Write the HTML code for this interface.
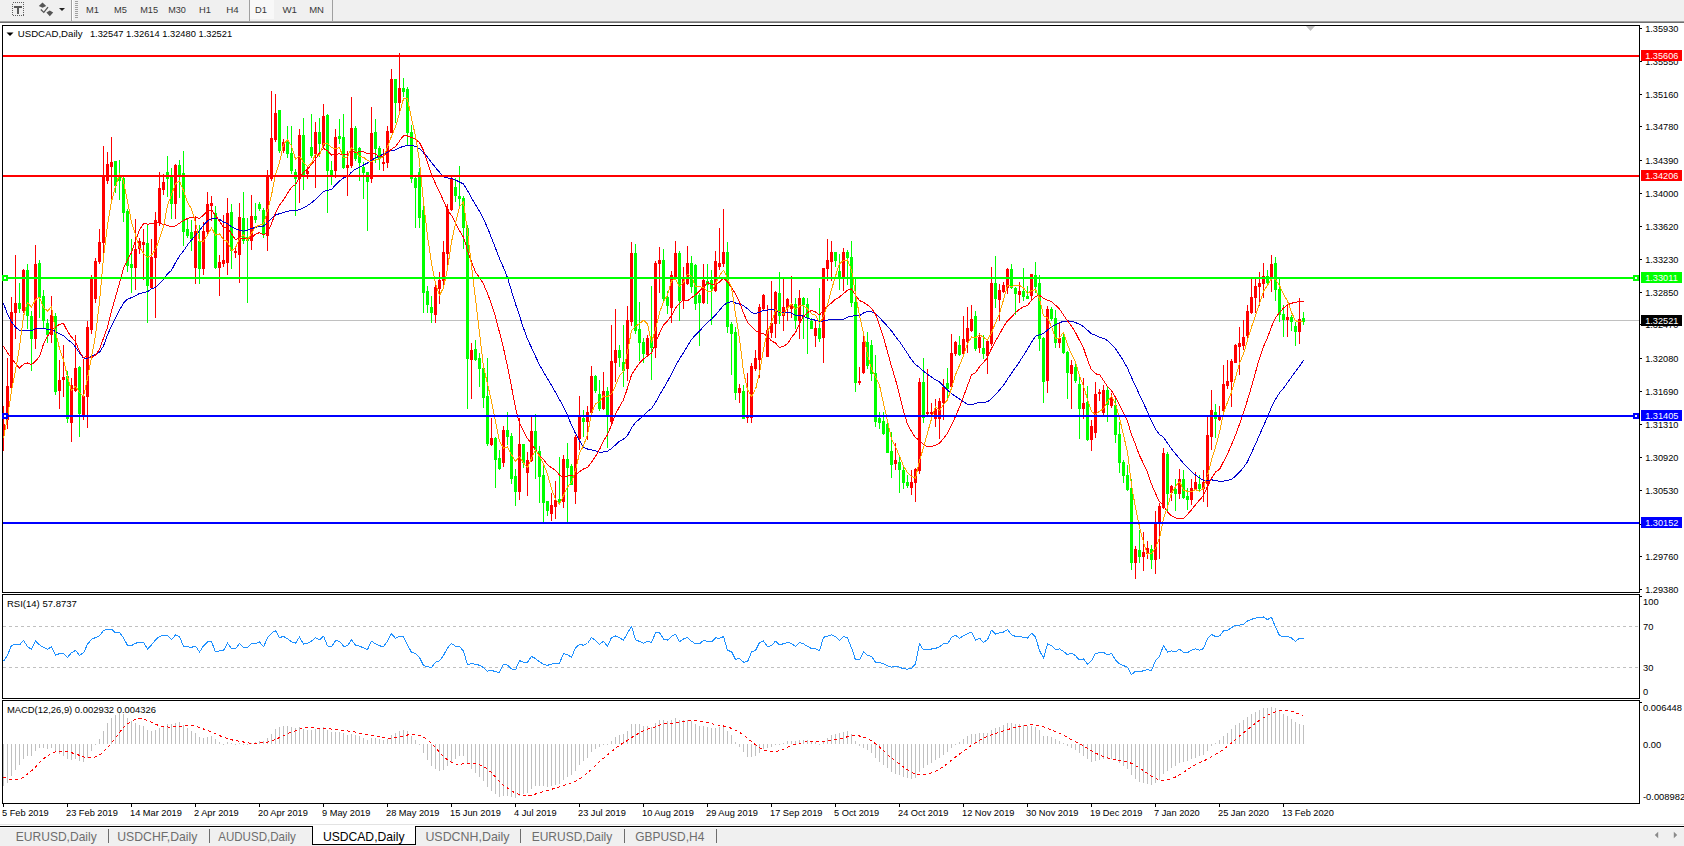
<!DOCTYPE html>
<html><head><meta charset="utf-8"><style>
html,body{margin:0;padding:0;background:#fff;width:1684px;height:846px;overflow:hidden}
svg{display:block}
text{font-family:"Liberation Sans", sans-serif}
</style></head><body>
<svg width="1684" height="846" viewBox="0 0 1684 846" shape-rendering="crispEdges">

<rect x="0" y="0" width="1684" height="21" fill="#f0f0f0"/>
<rect x="0" y="21" width="1684" height="1" fill="#a0a0a0"/>
<rect x="0" y="22" width="1684" height="1" fill="#6e6e6e"/>
<rect x="71" y="0" width="1" height="21" fill="#a0a0a0"/>
<rect x="249" y="0" width="1" height="21" fill="#a0a0a0"/>
<rect x="332" y="0" width="1" height="21" fill="#a0a0a0"/>
<rect x="250" y="0" width="24" height="19" fill="#f8f8f8"/>
<rect x="75" y="1" width="3" height="1" fill="#a0a0a0"/>
<rect x="75" y="3" width="3" height="1" fill="#a0a0a0"/>
<rect x="75" y="5" width="3" height="1" fill="#a0a0a0"/>
<rect x="75" y="7" width="3" height="1" fill="#a0a0a0"/>
<rect x="75" y="9" width="3" height="1" fill="#a0a0a0"/>
<rect x="75" y="11" width="3" height="1" fill="#a0a0a0"/>
<rect x="75" y="13" width="3" height="1" fill="#a0a0a0"/>
<rect x="75" y="15" width="3" height="1" fill="#a0a0a0"/>
<rect x="75" y="17" width="3" height="1" fill="#a0a0a0"/>
<rect x="72" y="0" width="1" height="20" fill="#ffffff"/>
<rect x="12.5" y="2.5" width="11" height="13" fill="none" stroke="#606060" stroke-width="1" stroke-dasharray="1,1"/>
<rect x="14" y="6" width="8" height="2" fill="#5a5a5a"/><rect x="17" y="6" width="2" height="8" fill="#5a5a5a"/>
<path d="M42.5 2.6 L46.2 6 L42.5 7.8 L38.8 6 Z M49.8 10.6 L53.2 12.6 L49.8 16.2 L46.4 12.6 Z" fill="#555" shape-rendering="auto"/>
<path d="M40.8 9.6 L43.8 12.4 L48 7.2" fill="none" stroke="#555" stroke-width="1.3" shape-rendering="auto"/>
<path d="M59 8 L65 8 L62 11 Z" fill="#222" shape-rendering="auto"/>
<text x="86.1" y="12.9" font-size="9.6" fill="#383838" textLength="12.9" lengthAdjust="spacingAndGlyphs">M1</text>
<text x="114.1" y="12.9" font-size="9.6" fill="#383838" textLength="12.9" lengthAdjust="spacingAndGlyphs">M5</text>
<text x="140.2" y="12.9" font-size="9.6" fill="#383838" textLength="17.9" lengthAdjust="spacingAndGlyphs">M15</text>
<text x="168.2" y="12.9" font-size="9.6" fill="#383838" textLength="17.7" lengthAdjust="spacingAndGlyphs">M30</text>
<text x="199.1" y="12.9" font-size="9.6" fill="#383838" textLength="12.0" lengthAdjust="spacingAndGlyphs">H1</text>
<text x="226.2" y="12.9" font-size="9.6" fill="#383838" textLength="12.5" lengthAdjust="spacingAndGlyphs">H4</text>
<text x="255.1" y="12.9" font-size="9.6" fill="#383838" textLength="11.9" lengthAdjust="spacingAndGlyphs">D1</text>
<text x="282.4" y="12.9" font-size="9.6" fill="#383838" textLength="14.6" lengthAdjust="spacingAndGlyphs">W1</text>
<text x="309.2" y="12.9" font-size="9.6" fill="#383838" textLength="14.8" lengthAdjust="spacingAndGlyphs">MN</text>
<rect x="2.5" y="25.5" width="1637" height="567" fill="#fff" stroke="#000" stroke-width="1"/>
<rect x="2.5" y="594.5" width="1637" height="104" fill="#fff" stroke="#000" stroke-width="1"/>
<rect x="2.5" y="700.5" width="1637" height="103" fill="#fff" stroke="#000" stroke-width="1"/>
<defs><clipPath id="cm"><rect x="3" y="26" width="1636" height="566"/></clipPath><clipPath id="cr"><rect x="3" y="595" width="1636" height="103"/></clipPath><clipPath id="cd"><rect x="3" y="701" width="1636" height="102"/></clipPath></defs>
<g clip-path="url(#cm)">
<rect x="3" y="320" width="1636" height="1" fill="#c0c0c0"/>
<rect x="3" y="406" width="1" height="45" fill="#ff0000"/>
<rect x="2" y="424" width="3" height="9" fill="#ff0000"/>
<rect x="7" y="358" width="1" height="71" fill="#ff0000"/>
<rect x="6" y="386" width="3" height="34" fill="#ff0000"/>
<rect x="11" y="297" width="1" height="92" fill="#ff0000"/>
<rect x="10" y="312" width="3" height="76" fill="#ff0000"/>
<rect x="15" y="255" width="1" height="84" fill="#ff0000"/>
<rect x="14" y="303" width="3" height="10" fill="#ff0000"/>
<rect x="19" y="283" width="1" height="30" fill="#00ff00"/>
<rect x="18" y="303" width="3" height="6" fill="#00ff00"/>
<rect x="23" y="269" width="1" height="44" fill="#ff0000"/>
<rect x="22" y="270" width="3" height="41" fill="#ff0000"/>
<rect x="27" y="264" width="1" height="65" fill="#00ff00"/>
<rect x="26" y="270" width="3" height="46" fill="#00ff00"/>
<rect x="31" y="311" width="1" height="60" fill="#00ff00"/>
<rect x="30" y="316" width="3" height="23" fill="#00ff00"/>
<rect x="35" y="245" width="1" height="104" fill="#ff0000"/>
<rect x="34" y="264" width="3" height="75" fill="#ff0000"/>
<rect x="39" y="260" width="1" height="58" fill="#00ff00"/>
<rect x="38" y="263" width="3" height="35" fill="#00ff00"/>
<rect x="43" y="290" width="1" height="38" fill="#00ff00"/>
<rect x="42" y="296" width="3" height="25" fill="#00ff00"/>
<rect x="47" y="319" width="1" height="24" fill="#00ff00"/>
<rect x="46" y="323" width="3" height="12" fill="#00ff00"/>
<rect x="51" y="296" width="1" height="47" fill="#ff0000"/>
<rect x="50" y="315" width="3" height="20" fill="#ff0000"/>
<rect x="55" y="313" width="1" height="82" fill="#00ff00"/>
<rect x="54" y="316" width="3" height="76" fill="#00ff00"/>
<rect x="59" y="360" width="1" height="49" fill="#ff0000"/>
<rect x="58" y="380" width="3" height="11" fill="#ff0000"/>
<rect x="63" y="345" width="1" height="52" fill="#ff0000"/>
<rect x="62" y="377" width="3" height="3" fill="#ff0000"/>
<rect x="67" y="371" width="1" height="52" fill="#00ff00"/>
<rect x="66" y="376" width="3" height="43" fill="#00ff00"/>
<rect x="71" y="378" width="1" height="64" fill="#ff0000"/>
<rect x="70" y="385" width="3" height="38" fill="#ff0000"/>
<rect x="75" y="335" width="1" height="57" fill="#ff0000"/>
<rect x="74" y="368" width="3" height="23" fill="#ff0000"/>
<rect x="79" y="366" width="1" height="71" fill="#00ff00"/>
<rect x="78" y="367" width="3" height="47" fill="#00ff00"/>
<rect x="83" y="359" width="1" height="61" fill="#ff0000"/>
<rect x="82" y="396" width="3" height="19" fill="#ff0000"/>
<rect x="87" y="321" width="1" height="107" fill="#ff0000"/>
<rect x="86" y="327" width="3" height="70" fill="#ff0000"/>
<rect x="91" y="275" width="1" height="59" fill="#ff0000"/>
<rect x="90" y="279" width="3" height="51" fill="#ff0000"/>
<rect x="95" y="258" width="1" height="45" fill="#ff0000"/>
<rect x="94" y="261" width="3" height="38" fill="#ff0000"/>
<rect x="99" y="229" width="1" height="35" fill="#ff0000"/>
<rect x="98" y="242" width="3" height="20" fill="#ff0000"/>
<rect x="103" y="146" width="1" height="107" fill="#ff0000"/>
<rect x="102" y="176" width="3" height="67" fill="#ff0000"/>
<rect x="107" y="152" width="1" height="32" fill="#ff0000"/>
<rect x="106" y="164" width="3" height="17" fill="#ff0000"/>
<rect x="111" y="137" width="1" height="64" fill="#ff0000"/>
<rect x="110" y="162" width="3" height="5" fill="#ff0000"/>
<rect x="115" y="161" width="1" height="32" fill="#00ff00"/>
<rect x="114" y="161" width="3" height="25" fill="#00ff00"/>
<rect x="119" y="160" width="1" height="40" fill="#00ff00"/>
<rect x="118" y="176" width="3" height="5" fill="#00ff00"/>
<rect x="123" y="175" width="1" height="47" fill="#00ff00"/>
<rect x="122" y="178" width="3" height="35" fill="#00ff00"/>
<rect x="127" y="209" width="1" height="63" fill="#00ff00"/>
<rect x="126" y="211" width="3" height="55" fill="#00ff00"/>
<rect x="131" y="239" width="1" height="54" fill="#00ff00"/>
<rect x="130" y="264" width="3" height="4" fill="#00ff00"/>
<rect x="135" y="219" width="1" height="71" fill="#ff0000"/>
<rect x="134" y="249" width="3" height="19" fill="#ff0000"/>
<rect x="139" y="238" width="1" height="16" fill="#ff0000"/>
<rect x="138" y="241" width="3" height="8" fill="#ff0000"/>
<rect x="143" y="229" width="1" height="51" fill="#ff0000"/>
<rect x="142" y="242" width="3" height="3" fill="#ff0000"/>
<rect x="147" y="224" width="1" height="99" fill="#00ff00"/>
<rect x="146" y="243" width="3" height="43" fill="#00ff00"/>
<rect x="151" y="239" width="1" height="50" fill="#ff0000"/>
<rect x="150" y="257" width="3" height="31" fill="#ff0000"/>
<rect x="155" y="212" width="1" height="106" fill="#ff0000"/>
<rect x="154" y="220" width="3" height="38" fill="#ff0000"/>
<rect x="159" y="172" width="1" height="54" fill="#ff0000"/>
<rect x="158" y="188" width="3" height="35" fill="#ff0000"/>
<rect x="163" y="174" width="1" height="21" fill="#ff0000"/>
<rect x="162" y="182" width="3" height="8" fill="#ff0000"/>
<rect x="167" y="156" width="1" height="41" fill="#00ff00"/>
<rect x="166" y="172" width="3" height="7" fill="#00ff00"/>
<rect x="171" y="168" width="1" height="51" fill="#00ff00"/>
<rect x="170" y="177" width="3" height="27" fill="#00ff00"/>
<rect x="175" y="164" width="1" height="55" fill="#ff0000"/>
<rect x="174" y="165" width="3" height="39" fill="#ff0000"/>
<rect x="179" y="160" width="1" height="38" fill="#00ff00"/>
<rect x="178" y="165" width="3" height="10" fill="#00ff00"/>
<rect x="183" y="151" width="1" height="95" fill="#00ff00"/>
<rect x="182" y="173" width="3" height="59" fill="#00ff00"/>
<rect x="187" y="219" width="1" height="19" fill="#00ff00"/>
<rect x="186" y="229" width="3" height="7" fill="#00ff00"/>
<rect x="191" y="220" width="1" height="31" fill="#00ff00"/>
<rect x="190" y="232" width="3" height="7" fill="#00ff00"/>
<rect x="195" y="217" width="1" height="67" fill="#ff0000"/>
<rect x="194" y="231" width="3" height="37" fill="#ff0000"/>
<rect x="199" y="225" width="1" height="59" fill="#00ff00"/>
<rect x="198" y="241" width="3" height="28" fill="#00ff00"/>
<rect x="203" y="222" width="1" height="53" fill="#ff0000"/>
<rect x="202" y="231" width="3" height="38" fill="#ff0000"/>
<rect x="207" y="192" width="1" height="44" fill="#ff0000"/>
<rect x="206" y="204" width="3" height="28" fill="#ff0000"/>
<rect x="211" y="196" width="1" height="25" fill="#ff0000"/>
<rect x="210" y="203" width="3" height="3" fill="#ff0000"/>
<rect x="215" y="206" width="1" height="63" fill="#00ff00"/>
<rect x="214" y="213" width="3" height="55" fill="#00ff00"/>
<rect x="219" y="255" width="1" height="41" fill="#ff0000"/>
<rect x="218" y="262" width="3" height="6" fill="#ff0000"/>
<rect x="223" y="215" width="1" height="52" fill="#ff0000"/>
<rect x="222" y="260" width="3" height="4" fill="#ff0000"/>
<rect x="227" y="198" width="1" height="77" fill="#ff0000"/>
<rect x="226" y="213" width="3" height="50" fill="#ff0000"/>
<rect x="231" y="204" width="1" height="65" fill="#00ff00"/>
<rect x="230" y="212" width="3" height="39" fill="#00ff00"/>
<rect x="235" y="248" width="1" height="10" fill="#ff0000"/>
<rect x="234" y="251" width="3" height="2" fill="#ff0000"/>
<rect x="239" y="203" width="1" height="80" fill="#ff0000"/>
<rect x="238" y="217" width="3" height="38" fill="#ff0000"/>
<rect x="243" y="192" width="1" height="52" fill="#00ff00"/>
<rect x="242" y="218" width="3" height="23" fill="#00ff00"/>
<rect x="247" y="218" width="1" height="85" fill="#00ff00"/>
<rect x="246" y="237" width="3" height="4" fill="#00ff00"/>
<rect x="251" y="195" width="1" height="55" fill="#ff0000"/>
<rect x="250" y="216" width="3" height="25" fill="#ff0000"/>
<rect x="255" y="203" width="1" height="20" fill="#00ff00"/>
<rect x="254" y="216" width="3" height="4" fill="#00ff00"/>
<rect x="259" y="202" width="1" height="9" fill="#00ff00"/>
<rect x="258" y="204" width="3" height="5" fill="#00ff00"/>
<rect x="263" y="208" width="1" height="30" fill="#00ff00"/>
<rect x="262" y="210" width="3" height="24" fill="#00ff00"/>
<rect x="267" y="170" width="1" height="81" fill="#ff0000"/>
<rect x="266" y="176" width="3" height="60" fill="#ff0000"/>
<rect x="271" y="91" width="1" height="90" fill="#ff0000"/>
<rect x="270" y="138" width="3" height="41" fill="#ff0000"/>
<rect x="275" y="94" width="1" height="48" fill="#ff0000"/>
<rect x="274" y="113" width="3" height="27" fill="#ff0000"/>
<rect x="279" y="110" width="1" height="43" fill="#00ff00"/>
<rect x="278" y="110" width="3" height="41" fill="#00ff00"/>
<rect x="283" y="139" width="1" height="14" fill="#ff0000"/>
<rect x="282" y="142" width="3" height="9" fill="#ff0000"/>
<rect x="287" y="126" width="1" height="32" fill="#00ff00"/>
<rect x="286" y="142" width="3" height="12" fill="#00ff00"/>
<rect x="291" y="126" width="1" height="48" fill="#00ff00"/>
<rect x="290" y="153" width="3" height="18" fill="#00ff00"/>
<rect x="295" y="169" width="1" height="47" fill="#00ff00"/>
<rect x="294" y="172" width="3" height="7" fill="#00ff00"/>
<rect x="299" y="129" width="1" height="74" fill="#ff0000"/>
<rect x="298" y="135" width="3" height="44" fill="#ff0000"/>
<rect x="303" y="118" width="1" height="72" fill="#00ff00"/>
<rect x="302" y="135" width="3" height="41" fill="#00ff00"/>
<rect x="307" y="167" width="1" height="12" fill="#ff0000"/>
<rect x="306" y="171" width="3" height="3" fill="#ff0000"/>
<rect x="311" y="114" width="1" height="44" fill="#00ff00"/>
<rect x="310" y="147" width="3" height="9" fill="#00ff00"/>
<rect x="315" y="122" width="1" height="66" fill="#ff0000"/>
<rect x="314" y="132" width="3" height="22" fill="#ff0000"/>
<rect x="319" y="118" width="1" height="39" fill="#00ff00"/>
<rect x="318" y="132" width="3" height="12" fill="#00ff00"/>
<rect x="323" y="104" width="1" height="44" fill="#ff0000"/>
<rect x="322" y="116" width="3" height="30" fill="#ff0000"/>
<rect x="327" y="114" width="1" height="99" fill="#00ff00"/>
<rect x="326" y="115" width="3" height="56" fill="#00ff00"/>
<rect x="331" y="161" width="1" height="24" fill="#00ff00"/>
<rect x="330" y="170" width="3" height="6" fill="#00ff00"/>
<rect x="335" y="129" width="1" height="49" fill="#ff0000"/>
<rect x="334" y="137" width="3" height="34" fill="#ff0000"/>
<rect x="339" y="119" width="1" height="25" fill="#00ff00"/>
<rect x="338" y="136" width="3" height="3" fill="#00ff00"/>
<rect x="343" y="114" width="1" height="55" fill="#00ff00"/>
<rect x="342" y="137" width="3" height="31" fill="#00ff00"/>
<rect x="347" y="151" width="1" height="45" fill="#ff0000"/>
<rect x="346" y="165" width="3" height="3" fill="#ff0000"/>
<rect x="351" y="97" width="1" height="71" fill="#ff0000"/>
<rect x="350" y="128" width="3" height="38" fill="#ff0000"/>
<rect x="355" y="126" width="1" height="35" fill="#00ff00"/>
<rect x="354" y="128" width="3" height="31" fill="#00ff00"/>
<rect x="359" y="147" width="1" height="34" fill="#00ff00"/>
<rect x="358" y="148" width="3" height="15" fill="#00ff00"/>
<rect x="363" y="162" width="1" height="37" fill="#00ff00"/>
<rect x="362" y="167" width="3" height="6" fill="#00ff00"/>
<rect x="367" y="172" width="1" height="59" fill="#00ff00"/>
<rect x="366" y="172" width="3" height="10" fill="#00ff00"/>
<rect x="371" y="107" width="1" height="76" fill="#ff0000"/>
<rect x="370" y="133" width="3" height="46" fill="#ff0000"/>
<rect x="375" y="119" width="1" height="44" fill="#00ff00"/>
<rect x="374" y="132" width="3" height="17" fill="#00ff00"/>
<rect x="379" y="146" width="1" height="24" fill="#00ff00"/>
<rect x="378" y="148" width="3" height="11" fill="#00ff00"/>
<rect x="383" y="149" width="1" height="22" fill="#ff0000"/>
<rect x="382" y="162" width="3" height="2" fill="#ff0000"/>
<rect x="387" y="126" width="1" height="42" fill="#ff0000"/>
<rect x="386" y="131" width="3" height="32" fill="#ff0000"/>
<rect x="391" y="69" width="1" height="64" fill="#ff0000"/>
<rect x="390" y="79" width="3" height="54" fill="#ff0000"/>
<rect x="395" y="79" width="1" height="44" fill="#00ff00"/>
<rect x="394" y="79" width="3" height="24" fill="#00ff00"/>
<rect x="399" y="53" width="1" height="62" fill="#ff0000"/>
<rect x="398" y="88" width="3" height="15" fill="#ff0000"/>
<rect x="403" y="78" width="1" height="19" fill="#00ff00"/>
<rect x="402" y="88" width="3" height="4" fill="#00ff00"/>
<rect x="407" y="87" width="1" height="58" fill="#00ff00"/>
<rect x="406" y="89" width="3" height="44" fill="#00ff00"/>
<rect x="411" y="125" width="1" height="58" fill="#00ff00"/>
<rect x="410" y="132" width="3" height="47" fill="#00ff00"/>
<rect x="415" y="177" width="1" height="51" fill="#00ff00"/>
<rect x="414" y="178" width="3" height="10" fill="#00ff00"/>
<rect x="419" y="168" width="1" height="60" fill="#00ff00"/>
<rect x="418" y="172" width="3" height="46" fill="#00ff00"/>
<rect x="423" y="205" width="1" height="108" fill="#00ff00"/>
<rect x="422" y="210" width="3" height="83" fill="#00ff00"/>
<rect x="427" y="286" width="1" height="27" fill="#00ff00"/>
<rect x="426" y="291" width="3" height="14" fill="#00ff00"/>
<rect x="431" y="296" width="1" height="27" fill="#00ff00"/>
<rect x="430" y="307" width="3" height="6" fill="#00ff00"/>
<rect x="435" y="285" width="1" height="38" fill="#ff0000"/>
<rect x="434" y="287" width="3" height="28" fill="#ff0000"/>
<rect x="439" y="272" width="1" height="32" fill="#ff0000"/>
<rect x="438" y="280" width="3" height="9" fill="#ff0000"/>
<rect x="443" y="241" width="1" height="46" fill="#ff0000"/>
<rect x="442" y="252" width="3" height="29" fill="#ff0000"/>
<rect x="447" y="204" width="1" height="63" fill="#ff0000"/>
<rect x="446" y="209" width="3" height="45" fill="#ff0000"/>
<rect x="451" y="175" width="1" height="36" fill="#ff0000"/>
<rect x="450" y="178" width="3" height="32" fill="#ff0000"/>
<rect x="455" y="178" width="1" height="24" fill="#00ff00"/>
<rect x="454" y="187" width="3" height="9" fill="#00ff00"/>
<rect x="459" y="166" width="1" height="42" fill="#00ff00"/>
<rect x="458" y="196" width="3" height="3" fill="#00ff00"/>
<rect x="463" y="196" width="1" height="53" fill="#00ff00"/>
<rect x="462" y="198" width="3" height="30" fill="#00ff00"/>
<rect x="467" y="225" width="1" height="184" fill="#00ff00"/>
<rect x="466" y="228" width="3" height="131" fill="#00ff00"/>
<rect x="471" y="343" width="1" height="56" fill="#ff0000"/>
<rect x="470" y="350" width="3" height="10" fill="#ff0000"/>
<rect x="475" y="340" width="1" height="21" fill="#00ff00"/>
<rect x="474" y="349" width="3" height="11" fill="#00ff00"/>
<rect x="479" y="353" width="1" height="34" fill="#00ff00"/>
<rect x="478" y="358" width="3" height="11" fill="#00ff00"/>
<rect x="483" y="368" width="1" height="40" fill="#00ff00"/>
<rect x="482" y="368" width="3" height="30" fill="#00ff00"/>
<rect x="487" y="358" width="1" height="88" fill="#00ff00"/>
<rect x="486" y="396" width="3" height="48" fill="#00ff00"/>
<rect x="491" y="418" width="1" height="28" fill="#ff0000"/>
<rect x="490" y="438" width="3" height="7" fill="#ff0000"/>
<rect x="495" y="437" width="1" height="51" fill="#00ff00"/>
<rect x="494" y="438" width="3" height="22" fill="#00ff00"/>
<rect x="499" y="450" width="1" height="20" fill="#00ff00"/>
<rect x="498" y="458" width="3" height="11" fill="#00ff00"/>
<rect x="503" y="426" width="1" height="41" fill="#ff0000"/>
<rect x="502" y="430" width="3" height="33" fill="#ff0000"/>
<rect x="507" y="412" width="1" height="33" fill="#00ff00"/>
<rect x="506" y="430" width="3" height="7" fill="#00ff00"/>
<rect x="511" y="433" width="1" height="51" fill="#00ff00"/>
<rect x="510" y="436" width="3" height="43" fill="#00ff00"/>
<rect x="515" y="469" width="1" height="37" fill="#00ff00"/>
<rect x="514" y="476" width="3" height="16" fill="#00ff00"/>
<rect x="519" y="418" width="1" height="82" fill="#ff0000"/>
<rect x="518" y="444" width="3" height="48" fill="#ff0000"/>
<rect x="523" y="444" width="1" height="24" fill="#00ff00"/>
<rect x="522" y="444" width="3" height="19" fill="#00ff00"/>
<rect x="527" y="452" width="1" height="44" fill="#ff0000"/>
<rect x="526" y="460" width="3" height="13" fill="#ff0000"/>
<rect x="531" y="417" width="1" height="45" fill="#ff0000"/>
<rect x="530" y="431" width="3" height="30" fill="#ff0000"/>
<rect x="535" y="414" width="1" height="65" fill="#00ff00"/>
<rect x="534" y="431" width="3" height="19" fill="#00ff00"/>
<rect x="539" y="446" width="1" height="57" fill="#00ff00"/>
<rect x="538" y="451" width="3" height="26" fill="#00ff00"/>
<rect x="543" y="465" width="1" height="58" fill="#00ff00"/>
<rect x="542" y="475" width="3" height="28" fill="#00ff00"/>
<rect x="547" y="501" width="1" height="15" fill="#00ff00"/>
<rect x="546" y="501" width="3" height="10" fill="#00ff00"/>
<rect x="551" y="493" width="1" height="28" fill="#ff0000"/>
<rect x="550" y="505" width="3" height="9" fill="#ff0000"/>
<rect x="555" y="481" width="1" height="38" fill="#ff0000"/>
<rect x="554" y="500" width="3" height="7" fill="#ff0000"/>
<rect x="559" y="457" width="1" height="48" fill="#00ff00"/>
<rect x="558" y="499" width="3" height="3" fill="#00ff00"/>
<rect x="563" y="455" width="1" height="53" fill="#ff0000"/>
<rect x="562" y="459" width="3" height="43" fill="#ff0000"/>
<rect x="567" y="443" width="1" height="80" fill="#00ff00"/>
<rect x="566" y="459" width="3" height="9" fill="#00ff00"/>
<rect x="571" y="464" width="1" height="21" fill="#00ff00"/>
<rect x="570" y="466" width="3" height="19" fill="#00ff00"/>
<rect x="575" y="435" width="1" height="69" fill="#ff0000"/>
<rect x="574" y="437" width="3" height="55" fill="#ff0000"/>
<rect x="579" y="396" width="1" height="54" fill="#ff0000"/>
<rect x="578" y="417" width="3" height="22" fill="#ff0000"/>
<rect x="583" y="410" width="1" height="27" fill="#00ff00"/>
<rect x="582" y="418" width="3" height="4" fill="#00ff00"/>
<rect x="587" y="406" width="1" height="34" fill="#ff0000"/>
<rect x="586" y="412" width="3" height="10" fill="#ff0000"/>
<rect x="591" y="366" width="1" height="48" fill="#ff0000"/>
<rect x="590" y="376" width="3" height="37" fill="#ff0000"/>
<rect x="595" y="375" width="1" height="18" fill="#00ff00"/>
<rect x="594" y="376" width="3" height="15" fill="#00ff00"/>
<rect x="599" y="380" width="1" height="31" fill="#00ff00"/>
<rect x="598" y="394" width="3" height="15" fill="#00ff00"/>
<rect x="603" y="372" width="1" height="38" fill="#ff0000"/>
<rect x="602" y="391" width="3" height="18" fill="#ff0000"/>
<rect x="607" y="387" width="1" height="61" fill="#00ff00"/>
<rect x="606" y="391" width="3" height="26" fill="#00ff00"/>
<rect x="611" y="325" width="1" height="99" fill="#ff0000"/>
<rect x="610" y="361" width="3" height="61" fill="#ff0000"/>
<rect x="615" y="309" width="1" height="73" fill="#ff0000"/>
<rect x="614" y="350" width="3" height="13" fill="#ff0000"/>
<rect x="619" y="345" width="1" height="22" fill="#00ff00"/>
<rect x="618" y="350" width="3" height="8" fill="#00ff00"/>
<rect x="623" y="325" width="1" height="62" fill="#00ff00"/>
<rect x="622" y="362" width="3" height="9" fill="#00ff00"/>
<rect x="627" y="306" width="1" height="75" fill="#ff0000"/>
<rect x="626" y="320" width="3" height="49" fill="#ff0000"/>
<rect x="631" y="242" width="1" height="84" fill="#ff0000"/>
<rect x="630" y="253" width="3" height="69" fill="#ff0000"/>
<rect x="635" y="244" width="1" height="90" fill="#00ff00"/>
<rect x="634" y="253" width="3" height="78" fill="#00ff00"/>
<rect x="639" y="302" width="1" height="59" fill="#00ff00"/>
<rect x="638" y="329" width="3" height="14" fill="#00ff00"/>
<rect x="643" y="338" width="1" height="25" fill="#00ff00"/>
<rect x="642" y="342" width="3" height="12" fill="#00ff00"/>
<rect x="647" y="335" width="1" height="21" fill="#ff0000"/>
<rect x="646" y="338" width="3" height="17" fill="#ff0000"/>
<rect x="651" y="286" width="1" height="94" fill="#00ff00"/>
<rect x="650" y="337" width="3" height="11" fill="#00ff00"/>
<rect x="655" y="261" width="1" height="97" fill="#ff0000"/>
<rect x="654" y="263" width="3" height="85" fill="#ff0000"/>
<rect x="659" y="247" width="1" height="46" fill="#ff0000"/>
<rect x="658" y="260" width="3" height="4" fill="#ff0000"/>
<rect x="663" y="249" width="1" height="52" fill="#00ff00"/>
<rect x="662" y="260" width="3" height="39" fill="#00ff00"/>
<rect x="667" y="291" width="1" height="23" fill="#00ff00"/>
<rect x="666" y="297" width="3" height="9" fill="#00ff00"/>
<rect x="671" y="271" width="1" height="52" fill="#ff0000"/>
<rect x="670" y="275" width="3" height="33" fill="#ff0000"/>
<rect x="675" y="241" width="1" height="38" fill="#ff0000"/>
<rect x="674" y="253" width="3" height="24" fill="#ff0000"/>
<rect x="679" y="251" width="1" height="70" fill="#00ff00"/>
<rect x="678" y="253" width="3" height="48" fill="#00ff00"/>
<rect x="683" y="267" width="1" height="42" fill="#ff0000"/>
<rect x="682" y="277" width="3" height="24" fill="#ff0000"/>
<rect x="687" y="246" width="1" height="39" fill="#ff0000"/>
<rect x="686" y="263" width="3" height="21" fill="#ff0000"/>
<rect x="691" y="256" width="1" height="37" fill="#00ff00"/>
<rect x="690" y="263" width="3" height="24" fill="#00ff00"/>
<rect x="695" y="264" width="1" height="46" fill="#00ff00"/>
<rect x="694" y="265" width="3" height="39" fill="#00ff00"/>
<rect x="699" y="293" width="1" height="53" fill="#00ff00"/>
<rect x="698" y="295" width="3" height="8" fill="#00ff00"/>
<rect x="703" y="264" width="1" height="40" fill="#ff0000"/>
<rect x="702" y="280" width="3" height="23" fill="#ff0000"/>
<rect x="707" y="264" width="1" height="40" fill="#00ff00"/>
<rect x="706" y="281" width="3" height="4" fill="#00ff00"/>
<rect x="711" y="270" width="1" height="55" fill="#00ff00"/>
<rect x="710" y="280" width="3" height="9" fill="#00ff00"/>
<rect x="715" y="251" width="1" height="41" fill="#ff0000"/>
<rect x="714" y="261" width="3" height="30" fill="#ff0000"/>
<rect x="719" y="228" width="1" height="42" fill="#ff0000"/>
<rect x="718" y="263" width="3" height="4" fill="#ff0000"/>
<rect x="723" y="209" width="1" height="58" fill="#ff0000"/>
<rect x="722" y="252" width="3" height="12" fill="#ff0000"/>
<rect x="727" y="242" width="1" height="91" fill="#00ff00"/>
<rect x="726" y="252" width="3" height="75" fill="#00ff00"/>
<rect x="731" y="322" width="1" height="53" fill="#00ff00"/>
<rect x="730" y="324" width="3" height="10" fill="#00ff00"/>
<rect x="735" y="327" width="1" height="73" fill="#00ff00"/>
<rect x="734" y="332" width="3" height="61" fill="#00ff00"/>
<rect x="739" y="384" width="1" height="19" fill="#ff0000"/>
<rect x="738" y="388" width="3" height="5" fill="#ff0000"/>
<rect x="743" y="385" width="1" height="34" fill="#00ff00"/>
<rect x="742" y="391" width="3" height="28" fill="#00ff00"/>
<rect x="747" y="373" width="1" height="50" fill="#ff0000"/>
<rect x="746" y="416" width="3" height="2" fill="#ff0000"/>
<rect x="751" y="363" width="1" height="60" fill="#ff0000"/>
<rect x="750" y="366" width="3" height="52" fill="#ff0000"/>
<rect x="755" y="350" width="1" height="21" fill="#ff0000"/>
<rect x="754" y="358" width="3" height="11" fill="#ff0000"/>
<rect x="759" y="304" width="1" height="74" fill="#ff0000"/>
<rect x="758" y="307" width="3" height="53" fill="#ff0000"/>
<rect x="763" y="294" width="1" height="17" fill="#ff0000"/>
<rect x="762" y="295" width="3" height="14" fill="#ff0000"/>
<rect x="767" y="305" width="1" height="52" fill="#ff0000"/>
<rect x="766" y="330" width="3" height="27" fill="#ff0000"/>
<rect x="771" y="281" width="1" height="57" fill="#ff0000"/>
<rect x="770" y="323" width="3" height="10" fill="#ff0000"/>
<rect x="775" y="291" width="1" height="47" fill="#ff0000"/>
<rect x="774" y="292" width="3" height="32" fill="#ff0000"/>
<rect x="779" y="272" width="1" height="52" fill="#00ff00"/>
<rect x="778" y="293" width="3" height="23" fill="#00ff00"/>
<rect x="783" y="279" width="1" height="52" fill="#ff0000"/>
<rect x="782" y="307" width="3" height="9" fill="#ff0000"/>
<rect x="787" y="298" width="1" height="23" fill="#ff0000"/>
<rect x="786" y="299" width="3" height="9" fill="#ff0000"/>
<rect x="791" y="276" width="1" height="42" fill="#ff0000"/>
<rect x="790" y="304" width="3" height="5" fill="#ff0000"/>
<rect x="795" y="298" width="1" height="31" fill="#00ff00"/>
<rect x="794" y="304" width="3" height="17" fill="#00ff00"/>
<rect x="799" y="290" width="1" height="49" fill="#ff0000"/>
<rect x="798" y="298" width="3" height="23" fill="#ff0000"/>
<rect x="803" y="297" width="1" height="42" fill="#00ff00"/>
<rect x="802" y="298" width="3" height="7" fill="#00ff00"/>
<rect x="807" y="298" width="1" height="56" fill="#00ff00"/>
<rect x="806" y="304" width="3" height="14" fill="#00ff00"/>
<rect x="811" y="318" width="1" height="11" fill="#00ff00"/>
<rect x="810" y="321" width="3" height="8" fill="#00ff00"/>
<rect x="815" y="320" width="1" height="27" fill="#ff0000"/>
<rect x="814" y="328" width="3" height="8" fill="#ff0000"/>
<rect x="819" y="288" width="1" height="54" fill="#00ff00"/>
<rect x="818" y="328" width="3" height="11" fill="#00ff00"/>
<rect x="823" y="268" width="1" height="95" fill="#ff0000"/>
<rect x="822" y="268" width="3" height="70" fill="#ff0000"/>
<rect x="827" y="239" width="1" height="42" fill="#ff0000"/>
<rect x="826" y="260" width="3" height="9" fill="#ff0000"/>
<rect x="831" y="241" width="1" height="40" fill="#ff0000"/>
<rect x="830" y="252" width="3" height="10" fill="#ff0000"/>
<rect x="835" y="252" width="1" height="15" fill="#00ff00"/>
<rect x="834" y="252" width="3" height="9" fill="#00ff00"/>
<rect x="839" y="254" width="1" height="36" fill="#00ff00"/>
<rect x="838" y="271" width="3" height="6" fill="#00ff00"/>
<rect x="843" y="248" width="1" height="43" fill="#ff0000"/>
<rect x="842" y="252" width="3" height="26" fill="#ff0000"/>
<rect x="847" y="250" width="1" height="35" fill="#00ff00"/>
<rect x="846" y="252" width="3" height="6" fill="#00ff00"/>
<rect x="851" y="241" width="1" height="66" fill="#00ff00"/>
<rect x="850" y="257" width="3" height="46" fill="#00ff00"/>
<rect x="855" y="278" width="1" height="114" fill="#00ff00"/>
<rect x="854" y="302" width="3" height="81" fill="#00ff00"/>
<rect x="859" y="367" width="1" height="18" fill="#ff0000"/>
<rect x="858" y="381" width="3" height="2" fill="#ff0000"/>
<rect x="863" y="336" width="1" height="38" fill="#ff0000"/>
<rect x="862" y="342" width="3" height="31" fill="#ff0000"/>
<rect x="867" y="332" width="1" height="37" fill="#00ff00"/>
<rect x="866" y="342" width="3" height="24" fill="#00ff00"/>
<rect x="871" y="340" width="1" height="41" fill="#00ff00"/>
<rect x="870" y="345" width="3" height="29" fill="#00ff00"/>
<rect x="875" y="355" width="1" height="72" fill="#00ff00"/>
<rect x="874" y="373" width="3" height="49" fill="#00ff00"/>
<rect x="879" y="412" width="1" height="17" fill="#00ff00"/>
<rect x="878" y="418" width="3" height="5" fill="#00ff00"/>
<rect x="883" y="412" width="1" height="23" fill="#00ff00"/>
<rect x="882" y="421" width="3" height="13" fill="#00ff00"/>
<rect x="887" y="423" width="1" height="30" fill="#00ff00"/>
<rect x="886" y="424" width="3" height="29" fill="#00ff00"/>
<rect x="891" y="432" width="1" height="46" fill="#00ff00"/>
<rect x="890" y="451" width="3" height="14" fill="#00ff00"/>
<rect x="895" y="443" width="1" height="27" fill="#ff0000"/>
<rect x="894" y="460" width="3" height="4" fill="#ff0000"/>
<rect x="899" y="457" width="1" height="36" fill="#00ff00"/>
<rect x="898" y="462" width="3" height="8" fill="#00ff00"/>
<rect x="903" y="466" width="1" height="23" fill="#00ff00"/>
<rect x="902" y="470" width="3" height="13" fill="#00ff00"/>
<rect x="907" y="475" width="1" height="13" fill="#00ff00"/>
<rect x="906" y="482" width="3" height="4" fill="#00ff00"/>
<rect x="911" y="470" width="1" height="25" fill="#ff0000"/>
<rect x="910" y="482" width="3" height="6" fill="#ff0000"/>
<rect x="915" y="468" width="1" height="34" fill="#ff0000"/>
<rect x="914" y="469" width="3" height="14" fill="#ff0000"/>
<rect x="919" y="378" width="1" height="96" fill="#ff0000"/>
<rect x="918" y="382" width="3" height="89" fill="#ff0000"/>
<rect x="923" y="358" width="1" height="65" fill="#00ff00"/>
<rect x="922" y="382" width="3" height="36" fill="#00ff00"/>
<rect x="927" y="369" width="1" height="47" fill="#ff0000"/>
<rect x="926" y="412" width="3" height="2" fill="#ff0000"/>
<rect x="931" y="403" width="1" height="13" fill="#ff0000"/>
<rect x="930" y="412" width="3" height="2" fill="#ff0000"/>
<rect x="935" y="399" width="1" height="28" fill="#ff0000"/>
<rect x="934" y="409" width="3" height="10" fill="#ff0000"/>
<rect x="939" y="398" width="1" height="41" fill="#ff0000"/>
<rect x="938" y="401" width="3" height="18" fill="#ff0000"/>
<rect x="943" y="379" width="1" height="41" fill="#ff0000"/>
<rect x="942" y="387" width="3" height="16" fill="#ff0000"/>
<rect x="947" y="368" width="1" height="31" fill="#00ff00"/>
<rect x="946" y="383" width="3" height="6" fill="#00ff00"/>
<rect x="951" y="334" width="1" height="55" fill="#ff0000"/>
<rect x="950" y="353" width="3" height="34" fill="#ff0000"/>
<rect x="955" y="341" width="1" height="15" fill="#ff0000"/>
<rect x="954" y="342" width="3" height="12" fill="#ff0000"/>
<rect x="959" y="336" width="1" height="20" fill="#00ff00"/>
<rect x="958" y="345" width="3" height="10" fill="#00ff00"/>
<rect x="963" y="316" width="1" height="40" fill="#ff0000"/>
<rect x="962" y="339" width="3" height="15" fill="#ff0000"/>
<rect x="967" y="307" width="1" height="46" fill="#ff0000"/>
<rect x="966" y="328" width="3" height="14" fill="#ff0000"/>
<rect x="971" y="305" width="1" height="27" fill="#ff0000"/>
<rect x="970" y="319" width="3" height="12" fill="#ff0000"/>
<rect x="975" y="311" width="1" height="40" fill="#00ff00"/>
<rect x="974" y="316" width="3" height="33" fill="#00ff00"/>
<rect x="979" y="333" width="1" height="20" fill="#ff0000"/>
<rect x="978" y="337" width="3" height="11" fill="#ff0000"/>
<rect x="983" y="335" width="1" height="24" fill="#00ff00"/>
<rect x="982" y="348" width="3" height="6" fill="#00ff00"/>
<rect x="987" y="340" width="1" height="34" fill="#ff0000"/>
<rect x="986" y="341" width="3" height="15" fill="#ff0000"/>
<rect x="991" y="267" width="1" height="79" fill="#ff0000"/>
<rect x="990" y="283" width="3" height="61" fill="#ff0000"/>
<rect x="995" y="256" width="1" height="52" fill="#00ff00"/>
<rect x="994" y="283" width="3" height="16" fill="#00ff00"/>
<rect x="999" y="284" width="1" height="37" fill="#ff0000"/>
<rect x="998" y="290" width="3" height="10" fill="#ff0000"/>
<rect x="1003" y="282" width="1" height="11" fill="#ff0000"/>
<rect x="1002" y="285" width="3" height="7" fill="#ff0000"/>
<rect x="1007" y="268" width="1" height="26" fill="#ff0000"/>
<rect x="1006" y="269" width="3" height="19" fill="#ff0000"/>
<rect x="1011" y="264" width="1" height="25" fill="#00ff00"/>
<rect x="1010" y="269" width="3" height="19" fill="#00ff00"/>
<rect x="1015" y="287" width="1" height="28" fill="#00ff00"/>
<rect x="1014" y="288" width="3" height="6" fill="#00ff00"/>
<rect x="1019" y="282" width="1" height="21" fill="#ff0000"/>
<rect x="1018" y="291" width="3" height="4" fill="#ff0000"/>
<rect x="1023" y="268" width="1" height="33" fill="#00ff00"/>
<rect x="1022" y="291" width="3" height="6" fill="#00ff00"/>
<rect x="1027" y="286" width="1" height="13" fill="#00ff00"/>
<rect x="1026" y="296" width="3" height="3" fill="#00ff00"/>
<rect x="1031" y="274" width="1" height="27" fill="#ff0000"/>
<rect x="1030" y="274" width="3" height="22" fill="#ff0000"/>
<rect x="1035" y="262" width="1" height="31" fill="#00ff00"/>
<rect x="1034" y="275" width="3" height="12" fill="#00ff00"/>
<rect x="1039" y="275" width="1" height="76" fill="#00ff00"/>
<rect x="1038" y="283" width="3" height="56" fill="#00ff00"/>
<rect x="1043" y="337" width="1" height="66" fill="#00ff00"/>
<rect x="1042" y="338" width="3" height="44" fill="#00ff00"/>
<rect x="1047" y="306" width="1" height="87" fill="#ff0000"/>
<rect x="1046" y="309" width="3" height="72" fill="#ff0000"/>
<rect x="1051" y="307" width="1" height="14" fill="#00ff00"/>
<rect x="1050" y="309" width="3" height="10" fill="#00ff00"/>
<rect x="1055" y="310" width="1" height="38" fill="#00ff00"/>
<rect x="1054" y="318" width="3" height="25" fill="#00ff00"/>
<rect x="1059" y="323" width="1" height="25" fill="#ff0000"/>
<rect x="1058" y="338" width="3" height="5" fill="#ff0000"/>
<rect x="1063" y="332" width="1" height="22" fill="#00ff00"/>
<rect x="1062" y="337" width="3" height="16" fill="#00ff00"/>
<rect x="1067" y="351" width="1" height="48" fill="#00ff00"/>
<rect x="1066" y="352" width="3" height="21" fill="#00ff00"/>
<rect x="1071" y="360" width="1" height="49" fill="#ff0000"/>
<rect x="1070" y="365" width="3" height="9" fill="#ff0000"/>
<rect x="1075" y="363" width="1" height="20" fill="#00ff00"/>
<rect x="1074" y="367" width="3" height="14" fill="#00ff00"/>
<rect x="1079" y="375" width="1" height="64" fill="#00ff00"/>
<rect x="1078" y="384" width="3" height="25" fill="#00ff00"/>
<rect x="1083" y="378" width="1" height="41" fill="#ff0000"/>
<rect x="1082" y="403" width="3" height="6" fill="#ff0000"/>
<rect x="1087" y="386" width="1" height="55" fill="#00ff00"/>
<rect x="1086" y="402" width="3" height="38" fill="#00ff00"/>
<rect x="1091" y="420" width="1" height="31" fill="#ff0000"/>
<rect x="1090" y="426" width="3" height="14" fill="#ff0000"/>
<rect x="1095" y="382" width="1" height="56" fill="#ff0000"/>
<rect x="1094" y="394" width="3" height="39" fill="#ff0000"/>
<rect x="1099" y="389" width="1" height="12" fill="#ff0000"/>
<rect x="1098" y="392" width="3" height="2" fill="#ff0000"/>
<rect x="1103" y="385" width="1" height="31" fill="#ff0000"/>
<rect x="1102" y="390" width="3" height="23" fill="#ff0000"/>
<rect x="1107" y="387" width="1" height="35" fill="#00ff00"/>
<rect x="1106" y="390" width="3" height="15" fill="#00ff00"/>
<rect x="1111" y="393" width="1" height="15" fill="#ff0000"/>
<rect x="1110" y="398" width="3" height="8" fill="#ff0000"/>
<rect x="1115" y="397" width="1" height="46" fill="#00ff00"/>
<rect x="1114" y="405" width="3" height="30" fill="#00ff00"/>
<rect x="1119" y="422" width="1" height="51" fill="#00ff00"/>
<rect x="1118" y="434" width="3" height="29" fill="#00ff00"/>
<rect x="1123" y="460" width="1" height="23" fill="#00ff00"/>
<rect x="1122" y="462" width="3" height="14" fill="#00ff00"/>
<rect x="1127" y="465" width="1" height="26" fill="#00ff00"/>
<rect x="1126" y="475" width="3" height="15" fill="#00ff00"/>
<rect x="1131" y="479" width="1" height="91" fill="#00ff00"/>
<rect x="1130" y="488" width="3" height="75" fill="#00ff00"/>
<rect x="1135" y="546" width="1" height="33" fill="#ff0000"/>
<rect x="1134" y="549" width="3" height="14" fill="#ff0000"/>
<rect x="1139" y="530" width="1" height="33" fill="#00ff00"/>
<rect x="1138" y="550" width="3" height="7" fill="#00ff00"/>
<rect x="1143" y="532" width="1" height="39" fill="#ff0000"/>
<rect x="1142" y="552" width="3" height="5" fill="#ff0000"/>
<rect x="1147" y="541" width="1" height="18" fill="#ff0000"/>
<rect x="1146" y="548" width="3" height="6" fill="#ff0000"/>
<rect x="1151" y="545" width="1" height="24" fill="#00ff00"/>
<rect x="1150" y="549" width="3" height="11" fill="#00ff00"/>
<rect x="1155" y="511" width="1" height="63" fill="#ff0000"/>
<rect x="1154" y="523" width="3" height="37" fill="#ff0000"/>
<rect x="1159" y="503" width="1" height="56" fill="#ff0000"/>
<rect x="1158" y="506" width="3" height="18" fill="#ff0000"/>
<rect x="1163" y="448" width="1" height="61" fill="#ff0000"/>
<rect x="1162" y="453" width="3" height="55" fill="#ff0000"/>
<rect x="1167" y="452" width="1" height="61" fill="#00ff00"/>
<rect x="1166" y="454" width="3" height="40" fill="#00ff00"/>
<rect x="1171" y="485" width="1" height="16" fill="#ff0000"/>
<rect x="1170" y="486" width="3" height="7" fill="#ff0000"/>
<rect x="1175" y="479" width="1" height="32" fill="#00ff00"/>
<rect x="1174" y="489" width="3" height="5" fill="#00ff00"/>
<rect x="1179" y="469" width="1" height="30" fill="#ff0000"/>
<rect x="1178" y="479" width="3" height="15" fill="#ff0000"/>
<rect x="1183" y="470" width="1" height="29" fill="#00ff00"/>
<rect x="1182" y="479" width="3" height="19" fill="#00ff00"/>
<rect x="1187" y="488" width="1" height="22" fill="#00ff00"/>
<rect x="1186" y="496" width="3" height="4" fill="#00ff00"/>
<rect x="1191" y="479" width="1" height="26" fill="#ff0000"/>
<rect x="1190" y="488" width="3" height="12" fill="#ff0000"/>
<rect x="1195" y="472" width="1" height="17" fill="#ff0000"/>
<rect x="1194" y="482" width="3" height="7" fill="#ff0000"/>
<rect x="1199" y="475" width="1" height="16" fill="#00ff00"/>
<rect x="1198" y="484" width="3" height="5" fill="#00ff00"/>
<rect x="1203" y="470" width="1" height="32" fill="#ff0000"/>
<rect x="1202" y="482" width="3" height="7" fill="#ff0000"/>
<rect x="1207" y="417" width="1" height="90" fill="#ff0000"/>
<rect x="1206" y="435" width="3" height="49" fill="#ff0000"/>
<rect x="1211" y="390" width="1" height="60" fill="#ff0000"/>
<rect x="1210" y="410" width="3" height="27" fill="#ff0000"/>
<rect x="1215" y="404" width="1" height="34" fill="#00ff00"/>
<rect x="1214" y="412" width="3" height="7" fill="#00ff00"/>
<rect x="1219" y="406" width="1" height="15" fill="#ff0000"/>
<rect x="1218" y="415" width="3" height="5" fill="#ff0000"/>
<rect x="1223" y="365" width="1" height="49" fill="#ff0000"/>
<rect x="1222" y="384" width="3" height="27" fill="#ff0000"/>
<rect x="1227" y="360" width="1" height="29" fill="#ff0000"/>
<rect x="1226" y="381" width="3" height="5" fill="#ff0000"/>
<rect x="1231" y="359" width="1" height="48" fill="#ff0000"/>
<rect x="1230" y="361" width="3" height="21" fill="#ff0000"/>
<rect x="1235" y="344" width="1" height="19" fill="#ff0000"/>
<rect x="1234" y="345" width="3" height="18" fill="#ff0000"/>
<rect x="1239" y="327" width="1" height="48" fill="#ff0000"/>
<rect x="1238" y="343" width="3" height="4" fill="#ff0000"/>
<rect x="1243" y="320" width="1" height="30" fill="#ff0000"/>
<rect x="1242" y="337" width="3" height="9" fill="#ff0000"/>
<rect x="1247" y="305" width="1" height="34" fill="#ff0000"/>
<rect x="1246" y="311" width="3" height="25" fill="#ff0000"/>
<rect x="1251" y="279" width="1" height="35" fill="#ff0000"/>
<rect x="1250" y="297" width="3" height="16" fill="#ff0000"/>
<rect x="1255" y="279" width="1" height="34" fill="#ff0000"/>
<rect x="1254" y="286" width="3" height="12" fill="#ff0000"/>
<rect x="1259" y="272" width="1" height="34" fill="#ff0000"/>
<rect x="1258" y="283" width="3" height="4" fill="#ff0000"/>
<rect x="1263" y="263" width="1" height="35" fill="#ff0000"/>
<rect x="1262" y="276" width="3" height="8" fill="#ff0000"/>
<rect x="1267" y="270" width="1" height="15" fill="#00ff00"/>
<rect x="1266" y="276" width="3" height="7" fill="#00ff00"/>
<rect x="1271" y="255" width="1" height="37" fill="#ff0000"/>
<rect x="1270" y="264" width="3" height="14" fill="#ff0000"/>
<rect x="1275" y="257" width="1" height="44" fill="#00ff00"/>
<rect x="1274" y="263" width="3" height="27" fill="#00ff00"/>
<rect x="1279" y="279" width="1" height="43" fill="#00ff00"/>
<rect x="1278" y="289" width="3" height="26" fill="#00ff00"/>
<rect x="1283" y="305" width="1" height="32" fill="#00ff00"/>
<rect x="1282" y="314" width="3" height="6" fill="#00ff00"/>
<rect x="1287" y="306" width="1" height="31" fill="#ff0000"/>
<rect x="1286" y="317" width="3" height="3" fill="#ff0000"/>
<rect x="1291" y="315" width="1" height="16" fill="#00ff00"/>
<rect x="1290" y="317" width="3" height="5" fill="#00ff00"/>
<rect x="1295" y="322" width="1" height="24" fill="#00ff00"/>
<rect x="1294" y="326" width="3" height="6" fill="#00ff00"/>
<rect x="1299" y="298" width="1" height="46" fill="#ff0000"/>
<rect x="1298" y="319" width="3" height="13" fill="#ff0000"/>
<rect x="1303" y="312" width="1" height="13" fill="#00ff00"/>
<rect x="1302" y="318" width="3" height="4" fill="#00ff00"/>
<polyline points="3.5,303.3 7.5,314.1 11.5,321.7 15.5,327.1 19.5,330.5 23.5,330.6 27.5,330.2 31.5,330.6 35.5,328.8 39.5,328.2 43.5,328.5 47.5,329.2 51.5,329.2 55.5,331.6 59.5,333.7 63.5,335.8 67.5,339.4 71.5,342.4 75.5,346.9 79.5,353.0 83.5,358.0 87.5,358.2 91.5,356.4 95.5,354.6 99.5,352.3 103.5,346.0 107.5,335.0 111.5,325.7 115.5,318.3 119.5,310.2 123.5,303.1 127.5,299.1 131.5,297.6 135.5,295.8 139.5,293.5 143.5,292.6 147.5,291.6 151.5,288.9 155.5,287.4 159.5,283.8 163.5,279.2 167.5,274.0 171.5,270.3 175.5,262.7 179.5,255.9 183.5,251.0 187.5,244.9 191.5,240.0 195.5,235.4 199.5,230.6 203.5,225.1 207.5,221.0 211.5,218.5 215.5,218.7 219.5,219.3 223.5,222.1 227.5,223.8 231.5,226.7 235.5,228.9 239.5,230.1 243.5,231.1 247.5,230.2 251.5,228.5 255.5,227.5 259.5,226.4 263.5,226.1 267.5,222.5 271.5,218.5 275.5,215.0 279.5,213.7 283.5,212.4 287.5,211.5 291.5,210.4 295.5,210.9 299.5,209.6 303.5,207.7 307.5,205.6 311.5,202.8 315.5,199.5 319.5,195.3 323.5,191.5 327.5,190.4 331.5,189.4 335.5,185.1 339.5,181.0 343.5,177.9 347.5,176.3 351.5,172.2 355.5,169.1 359.5,167.2 363.5,165.0 367.5,163.0 371.5,160.2 375.5,157.9 379.5,156.2 383.5,153.8 387.5,152.3 391.5,150.4 395.5,150.0 399.5,147.9 403.5,146.2 407.5,145.6 411.5,145.8 415.5,146.1 419.5,148.8 423.5,152.8 427.5,157.2 431.5,162.4 435.5,167.6 439.5,172.2 443.5,176.7 447.5,178.0 451.5,178.1 455.5,180.1 459.5,182.0 463.5,184.0 467.5,190.5 471.5,197.9 475.5,204.6 479.5,211.4 483.5,218.9 487.5,227.7 491.5,237.8 495.5,248.2 499.5,258.6 503.5,267.5 507.5,277.7 511.5,291.0 515.5,303.9 519.5,315.8 523.5,328.2 527.5,339.1 531.5,347.6 535.5,356.3 539.5,364.9 543.5,371.9 547.5,378.8 551.5,385.2 555.5,392.3 559.5,399.7 563.5,406.6 567.5,415.1 571.5,425.3 575.5,433.4 579.5,440.7 583.5,447.2 587.5,449.0 591.5,449.9 595.5,450.9 599.5,452.2 603.5,452.0 607.5,451.1 611.5,448.6 615.5,444.9 619.5,441.2 623.5,439.2 627.5,435.4 631.5,427.9 635.5,422.5 639.5,419.1 643.5,415.5 647.5,411.4 651.5,408.6 655.5,402.4 659.5,395.2 663.5,388.4 667.5,381.5 671.5,373.9 675.5,365.6 679.5,358.9 683.5,352.9 687.5,346.1 691.5,339.5 695.5,335.0 699.5,331.2 703.5,326.5 707.5,322.2 711.5,319.3 715.5,315.0 719.5,310.2 723.5,305.5 727.5,302.5 731.5,301.6 735.5,303.0 739.5,304.0 743.5,305.6 747.5,308.8 751.5,312.6 755.5,313.5 759.5,312.3 763.5,310.4 767.5,310.1 771.5,309.3 775.5,310.3 779.5,312.1 783.5,312.4 787.5,312.2 791.5,313.2 795.5,315.4 799.5,315.4 803.5,316.2 807.5,318.1 811.5,319.4 815.5,320.2 819.5,321.4 823.5,321.0 827.5,320.2 831.5,319.0 835.5,319.0 839.5,319.4 843.5,319.4 847.5,317.1 851.5,316.1 855.5,315.8 859.5,315.6 863.5,313.0 867.5,311.3 871.5,311.6 875.5,313.7 879.5,317.5 883.5,322.1 887.5,326.2 891.5,330.9 895.5,336.5 899.5,341.6 903.5,347.4 907.5,353.6 911.5,359.6 915.5,364.6 919.5,367.4 923.5,371.1 927.5,374.3 931.5,377.1 935.5,379.8 939.5,381.9 943.5,385.9 947.5,390.2 951.5,393.5 955.5,396.3 959.5,398.9 963.5,401.8 967.5,404.1 971.5,404.7 975.5,403.6 979.5,402.1 983.5,402.5 987.5,401.7 991.5,398.7 995.5,394.6 999.5,390.1 1003.5,385.2 1007.5,379.1 1011.5,373.2 1015.5,367.6 1019.5,361.7 1023.5,355.5 1027.5,349.2 1031.5,342.3 1035.5,336.2 1039.5,334.7 1043.5,333.5 1047.5,330.1 1051.5,326.9 1055.5,324.7 1059.5,322.6 1063.5,321.4 1067.5,320.9 1071.5,321.3 1075.5,322.6 1079.5,324.4 1083.5,326.5 1087.5,330.2 1091.5,333.8 1095.5,335.3 1099.5,337.1 1103.5,338.4 1107.5,340.5 1111.5,344.3 1115.5,348.8 1119.5,354.6 1123.5,360.9 1127.5,368.2 1131.5,377.4 1135.5,385.9 1139.5,394.8 1143.5,403.3 1147.5,411.7 1151.5,421.2 1155.5,429.1 1159.5,434.7 1163.5,437.1 1167.5,443.2 1171.5,448.8 1175.5,453.9 1179.5,458.6 1183.5,463.4 1187.5,467.6 1191.5,471.7 1195.5,475.1 1199.5,477.8 1203.5,480.4 1207.5,480.3 1211.5,479.8 1215.5,480.6 1219.5,481.4 1223.5,481.1 1227.5,480.4 1231.5,479.2 1235.5,476.2 1239.5,472.2 1243.5,467.6 1247.5,461.7 1251.5,452.9 1255.5,444.1 1259.5,435.0 1263.5,425.8 1267.5,416.9 1271.5,407.1 1275.5,399.3 1279.5,392.9 1283.5,388.4 1287.5,382.5 1291.5,377.0 1295.5,371.6 1299.5,366.3 1303.5,360.4" fill="none" stroke="#0000cd" stroke-width="1" stroke-linejoin="round"/>
<polyline points="3.5,346.2 7.5,352.7 11.5,358.3 15.5,363.5 19.5,368.0 23.5,364.3 27.5,363.0 31.5,364.6 35.5,361.2 39.5,356.4 43.5,344.0 47.5,336.3 51.5,329.8 55.5,327.4 59.5,324.3 63.5,323.6 67.5,331.2 71.5,337.1 75.5,341.4 79.5,351.6 83.5,357.4 87.5,356.6 91.5,357.6 95.5,355.1 99.5,349.5 103.5,338.2 107.5,327.4 111.5,311.1 115.5,297.1 119.5,283.1 123.5,268.3 127.5,259.8 131.5,252.5 135.5,240.8 139.5,229.8 143.5,223.7 147.5,224.1 151.5,223.8 155.5,222.3 159.5,223.1 163.5,224.4 167.5,225.5 171.5,226.8 175.5,225.8 179.5,223.1 183.5,220.6 187.5,218.4 191.5,217.6 195.5,216.9 199.5,218.7 203.5,214.9 207.5,211.1 211.5,209.9 215.5,215.5 219.5,221.2 223.5,227.1 227.5,227.8 231.5,233.9 235.5,239.4 239.5,238.4 243.5,238.7 247.5,238.9 251.5,237.8 255.5,234.3 259.5,232.6 263.5,234.7 267.5,232.8 271.5,223.6 275.5,212.9 279.5,205.1 283.5,200.0 287.5,193.1 291.5,187.3 295.5,184.5 299.5,177.0 303.5,172.4 307.5,169.1 311.5,164.6 315.5,159.1 319.5,152.7 323.5,148.4 327.5,150.7 331.5,155.1 335.5,154.2 339.5,153.9 343.5,154.9 347.5,154.6 351.5,151.0 355.5,152.6 359.5,151.6 363.5,151.7 367.5,153.6 371.5,153.6 375.5,154.0 379.5,157.0 383.5,156.4 387.5,153.3 391.5,149.1 395.5,146.6 399.5,141.0 403.5,135.7 407.5,136.0 411.5,137.5 415.5,139.2 419.5,142.5 423.5,150.4 427.5,162.6 431.5,174.4 435.5,183.6 439.5,192.0 443.5,200.7 447.5,210.0 451.5,215.4 455.5,223.0 459.5,230.6 463.5,237.4 467.5,250.2 471.5,261.9 475.5,272.0 479.5,277.4 483.5,284.1 487.5,293.4 491.5,304.2 495.5,317.0 499.5,332.4 503.5,348.1 507.5,366.6 511.5,386.8 515.5,407.8 519.5,423.3 523.5,430.8 527.5,438.6 531.5,443.8 535.5,449.6 539.5,455.2 543.5,459.5 547.5,464.6 551.5,467.9 555.5,470.2 559.5,475.2 563.5,476.9 567.5,476.1 571.5,475.5 575.5,475.0 579.5,471.8 583.5,469.0 587.5,467.6 591.5,462.4 595.5,456.3 599.5,449.5 603.5,441.0 607.5,434.7 611.5,424.8 615.5,414.0 619.5,406.7 623.5,399.8 627.5,388.1 631.5,374.9 635.5,368.7 639.5,363.1 643.5,358.9 647.5,356.2 651.5,353.1 655.5,342.8 659.5,333.4 663.5,325.0 667.5,321.0 671.5,315.6 675.5,308.2 679.5,303.2 683.5,300.1 687.5,300.8 691.5,297.7 695.5,294.9 699.5,291.2 703.5,287.1 707.5,282.6 711.5,284.4 715.5,284.5 719.5,282.0 723.5,278.2 727.5,281.8 731.5,287.5 735.5,294.1 739.5,302.0 743.5,313.0 747.5,322.3 751.5,326.8 755.5,330.8 759.5,332.7 763.5,333.5 767.5,336.5 771.5,340.9 775.5,343.0 779.5,347.5 783.5,346.2 787.5,343.8 791.5,337.5 795.5,332.6 799.5,324.1 803.5,316.1 807.5,312.6 811.5,310.4 815.5,311.9 819.5,314.9 823.5,310.5 827.5,306.0 831.5,303.1 835.5,299.2 839.5,297.0 843.5,293.6 847.5,290.2 851.5,289.0 855.5,295.0 859.5,300.5 863.5,302.3 867.5,305.0 871.5,308.2 875.5,314.1 879.5,325.2 883.5,337.5 887.5,351.8 891.5,366.4 895.5,379.5 899.5,395.0 903.5,411.1 907.5,424.2 911.5,431.4 915.5,437.7 919.5,440.5 923.5,444.2 927.5,447.0 931.5,446.4 935.5,445.4 939.5,443.1 943.5,438.5 947.5,433.1 951.5,425.4 955.5,416.3 959.5,407.2 963.5,396.7 967.5,385.7 971.5,375.0 975.5,372.5 979.5,366.8 983.5,362.6 987.5,357.5 991.5,348.5 995.5,341.2 999.5,334.2 1003.5,326.9 1007.5,320.9 1011.5,317.0 1015.5,312.6 1019.5,309.2 1023.5,306.9 1027.5,305.4 1031.5,300.1 1035.5,296.5 1039.5,295.4 1043.5,298.2 1047.5,300.1 1051.5,301.5 1055.5,305.2 1059.5,309.0 1063.5,314.9 1067.5,321.0 1071.5,326.1 1075.5,332.5 1079.5,340.4 1083.5,348.0 1087.5,359.8 1091.5,369.8 1095.5,373.8 1099.5,374.6 1103.5,380.4 1107.5,386.5 1111.5,390.5 1115.5,397.4 1119.5,405.2 1123.5,412.6 1127.5,421.4 1131.5,434.5 1135.5,444.6 1139.5,455.5 1143.5,463.6 1147.5,472.3 1151.5,484.1 1155.5,493.5 1159.5,501.8 1163.5,505.2 1167.5,512.1 1171.5,515.8 1175.5,518.0 1179.5,518.3 1183.5,518.9 1187.5,514.3 1191.5,509.9 1195.5,504.7 1199.5,500.1 1203.5,495.4 1207.5,486.5 1211.5,478.4 1215.5,472.1 1219.5,469.4 1223.5,461.6 1227.5,454.1 1231.5,444.7 1235.5,435.1 1239.5,424.1 1243.5,412.6 1247.5,400.0 1251.5,386.7 1255.5,372.3 1259.5,358.1 1263.5,346.7 1267.5,337.6 1271.5,326.6 1275.5,317.6 1279.5,312.6 1283.5,308.1 1287.5,304.9 1291.5,303.2 1295.5,302.4 1299.5,301.1 1303.5,301.8" fill="none" stroke="#ff0000" stroke-width="1" stroke-linejoin="round"/>
<polyline points="3.5,438.4 7.5,417.0 11.5,390.9 15.5,370.4 19.5,347.1 23.5,316.3 27.5,302.1 31.5,307.3 35.5,299.5 39.5,297.3 43.5,307.3 47.5,311.1 51.5,306.5 55.5,331.9 59.5,348.5 63.5,359.9 67.5,376.7 71.5,390.7 75.5,386.1 79.5,392.7 83.5,396.5 87.5,378.3 91.5,357.1 95.5,335.7 99.5,301.5 103.5,257.5 107.5,224.9 111.5,201.5 115.5,186.3 119.5,173.9 123.5,181.0 127.5,201.2 131.5,222.2 135.5,235.0 139.5,247.2 143.5,253.3 147.5,257.3 151.5,255.3 155.5,249.5 159.5,238.9 163.5,226.9 167.5,205.5 171.5,194.7 175.5,183.7 179.5,180.9 183.5,190.7 187.5,202.1 191.5,209.1 195.5,222.3 199.5,241.1 203.5,241.1 207.5,234.9 211.5,227.9 215.5,235.1 219.5,233.9 223.5,239.7 227.5,241.5 231.5,250.9 235.5,247.7 239.5,238.7 243.5,234.7 247.5,240.1 251.5,233.3 255.5,226.9 259.5,225.1 263.5,223.7 267.5,210.9 271.5,195.3 275.5,174.1 279.5,162.5 283.5,144.3 287.5,139.7 291.5,146.1 295.5,159.1 299.5,156.1 303.5,162.7 307.5,166.3 311.5,163.3 315.5,154.1 319.5,155.7 323.5,143.9 327.5,143.7 331.5,147.7 335.5,148.7 339.5,147.7 343.5,157.9 347.5,156.9 351.5,147.4 355.5,151.5 359.5,156.3 363.5,157.3 367.5,160.5 371.5,161.6 375.5,159.7 379.5,158.9 383.5,156.9 387.5,146.9 391.5,136.1 395.5,127.0 399.5,113.0 403.5,98.8 407.5,99.0 411.5,118.8 415.5,135.7 419.5,161.5 423.5,201.7 427.5,236.1 431.5,263.0 435.5,283.0 439.5,295.6 443.5,287.7 447.5,268.7 451.5,241.8 455.5,223.4 459.5,206.9 463.5,201.8 467.5,231.6 471.5,266.0 475.5,298.8 479.5,332.8 483.5,366.8 487.5,383.8 491.5,401.4 495.5,421.4 499.5,441.5 503.5,448.1 507.5,446.8 511.5,454.8 515.5,461.2 519.5,456.5 523.5,462.9 527.5,467.7 531.5,458.3 535.5,449.9 539.5,456.2 543.5,464.2 547.5,474.1 551.5,488.9 555.5,499.1 559.5,504.1 563.5,495.5 567.5,486.9 571.5,482.6 575.5,470.0 579.5,453.2 583.5,445.6 587.5,434.6 591.5,413.1 595.5,403.7 599.5,401.9 603.5,395.9 607.5,396.7 611.5,393.7 615.5,385.7 619.5,375.5 623.5,371.3 627.5,352.1 631.5,330.5 635.5,326.5 639.5,323.6 643.5,320.2 647.5,323.8 651.5,342.6 655.5,329.2 659.5,312.7 663.5,301.7 667.5,295.1 671.5,280.7 675.5,278.7 679.5,286.7 683.5,282.5 687.5,274.1 691.5,276.3 695.5,286.3 699.5,286.8 703.5,287.4 707.5,291.6 711.5,292.0 715.5,283.6 719.5,275.7 723.5,270.1 727.5,278.5 731.5,287.5 735.5,313.7 739.5,338.6 743.5,371.7 747.5,389.7 751.5,396.3 755.5,389.5 759.5,373.4 763.5,348.9 767.5,331.7 771.5,323.1 775.5,310.0 779.5,311.6 783.5,314.0 787.5,307.8 791.5,304.0 795.5,309.5 799.5,306.0 803.5,305.4 807.5,309.0 811.5,313.7 815.5,315.2 819.5,323.3 823.5,316.1 827.5,304.7 831.5,289.6 835.5,276.1 839.5,263.7 843.5,260.5 847.5,259.9 851.5,269.9 855.5,294.3 859.5,315.3 863.5,333.3 867.5,354.9 871.5,369.1 875.5,376.9 879.5,385.2 883.5,403.4 887.5,420.8 891.5,439.0 895.5,446.8 899.5,456.1 903.5,466.0 907.5,472.6 911.5,476.3 915.5,478.1 919.5,460.7 923.5,447.6 927.5,432.9 931.5,418.8 935.5,406.8 939.5,410.6 943.5,404.6 947.5,399.9 951.5,388.1 955.5,374.7 959.5,365.3 963.5,355.7 967.5,343.7 971.5,336.9 975.5,338.0 979.5,334.6 983.5,337.4 987.5,340.0 991.5,332.8 995.5,322.9 999.5,313.5 1003.5,299.9 1007.5,285.5 1011.5,286.3 1015.5,285.3 1019.5,285.5 1023.5,287.7 1027.5,293.4 1031.5,290.8 1035.5,289.4 1039.5,298.7 1043.5,315.7 1047.5,318.0 1051.5,326.8 1055.5,338.0 1059.5,338.0 1063.5,332.2 1067.5,344.8 1071.5,354.2 1075.5,361.8 1079.5,375.8 1083.5,386.0 1087.5,399.4 1091.5,411.6 1095.5,414.4 1099.5,411.3 1103.5,408.7 1107.5,401.7 1111.5,396.0 1115.5,404.0 1119.5,418.0 1123.5,435.0 1127.5,452.0 1131.5,485.0 1135.5,508.0 1139.5,526.8 1143.5,542.3 1147.5,554.1 1151.5,553.4 1155.5,548.2 1159.5,538.2 1163.5,518.3 1167.5,507.3 1171.5,492.7 1175.5,486.7 1179.5,481.3 1183.5,490.1 1187.5,491.3 1191.5,491.6 1195.5,489.5 1199.5,491.3 1203.5,488.3 1207.5,475.5 1211.5,460.0 1215.5,447.1 1219.5,432.5 1223.5,412.9 1227.5,402.1 1231.5,392.3 1235.5,377.7 1239.5,363.3 1243.5,353.9 1247.5,339.9 1251.5,327.1 1255.5,315.3 1259.5,303.3 1263.5,291.1 1267.5,285.3 1271.5,278.7 1275.5,279.3 1279.5,285.5 1283.5,294.0 1287.5,301.0 1291.5,312.4 1295.5,320.8 1299.5,321.7 1303.5,322.1" fill="none" stroke="#ffa500" stroke-width="1" stroke-linejoin="round"/>
<rect x="3" y="55" width="1636" height="2" fill="#ff0000"/>
<rect x="3" y="175" width="1636" height="2" fill="#ff0000"/>
<rect x="3" y="277" width="1636" height="2" fill="#00ff00"/>
<rect x="3" y="415" width="1636" height="2" fill="#0000ff"/>
<rect x="3" y="522" width="1636" height="2" fill="#0000ff"/>
</g>
<rect x="2" y="275" width="6" height="6" fill="#00ff00"/>
<rect x="4" y="277" width="2" height="2" fill="#fff"/>
<rect x="1633" y="275" width="6" height="6" fill="#00ff00"/>
<rect x="1635" y="277" width="2" height="2" fill="#fff"/>
<rect x="2" y="413" width="6" height="6" fill="#0000ff"/>
<rect x="4" y="415" width="2" height="2" fill="#fff"/>
<rect x="1633" y="413" width="6" height="6" fill="#0000ff"/>
<rect x="1635" y="415" width="2" height="2" fill="#fff"/>
<path d="M1306 26 L1315 26 L1310.5 31 Z" fill="#c0c0c0" shape-rendering="auto"/>
<path d="M6.5 32.5 L13.5 32.5 L10 36 Z" fill="#000" shape-rendering="auto"/>
<text x="17.8" y="37.1" font-size="9.65" fill="#000">USDCAD,Daily</text>
<text x="89.9" y="37.1" font-size="9.3" fill="#000">1.32547 1.32614 1.32480 1.32521</text>
<rect x="1640" y="28" width="2" height="1" fill="#000"/>
<text transform="translate(1645.20 31.90) scale(0.94 1)" font-size="9.8" fill="#000">1.35930</text>
<rect x="1640" y="61" width="2" height="1" fill="#000"/>
<text transform="translate(1645.20 64.90) scale(0.94 1)" font-size="9.8" fill="#000">1.35550</text>
<rect x="1640" y="94" width="2" height="1" fill="#000"/>
<text transform="translate(1645.20 97.90) scale(0.94 1)" font-size="9.8" fill="#000">1.35160</text>
<rect x="1640" y="126" width="2" height="1" fill="#000"/>
<text transform="translate(1645.20 129.90) scale(0.94 1)" font-size="9.8" fill="#000">1.34780</text>
<rect x="1640" y="160" width="2" height="1" fill="#000"/>
<text transform="translate(1645.20 163.90) scale(0.94 1)" font-size="9.8" fill="#000">1.34390</text>
<rect x="1640" y="193" width="2" height="1" fill="#000"/>
<text transform="translate(1645.20 196.90) scale(0.94 1)" font-size="9.8" fill="#000">1.34000</text>
<rect x="1640" y="226" width="2" height="1" fill="#000"/>
<text transform="translate(1645.20 229.90) scale(0.94 1)" font-size="9.8" fill="#000">1.33620</text>
<rect x="1640" y="259" width="2" height="1" fill="#000"/>
<text transform="translate(1645.20 262.90) scale(0.94 1)" font-size="9.8" fill="#000">1.33230</text>
<rect x="1640" y="292" width="2" height="1" fill="#000"/>
<text transform="translate(1645.20 295.90) scale(0.94 1)" font-size="9.8" fill="#000">1.32850</text>
<rect x="1640" y="324" width="2" height="1" fill="#000"/>
<text transform="translate(1645.20 327.90) scale(0.94 1)" font-size="9.8" fill="#000">1.32470</text>
<rect x="1640" y="358" width="2" height="1" fill="#000"/>
<text transform="translate(1645.20 361.90) scale(0.94 1)" font-size="9.8" fill="#000">1.32080</text>
<rect x="1640" y="391" width="2" height="1" fill="#000"/>
<text transform="translate(1645.20 394.90) scale(0.94 1)" font-size="9.8" fill="#000">1.31690</text>
<rect x="1640" y="424" width="2" height="1" fill="#000"/>
<text transform="translate(1645.20 427.90) scale(0.94 1)" font-size="9.8" fill="#000">1.31310</text>
<rect x="1640" y="457" width="2" height="1" fill="#000"/>
<text transform="translate(1645.20 460.90) scale(0.94 1)" font-size="9.8" fill="#000">1.30920</text>
<rect x="1640" y="490" width="2" height="1" fill="#000"/>
<text transform="translate(1645.20 493.90) scale(0.94 1)" font-size="9.8" fill="#000">1.30530</text>
<rect x="1640" y="524" width="2" height="1" fill="#000"/>
<text transform="translate(1645.20 527.90) scale(0.94 1)" font-size="9.8" fill="#000">1.30140</text>
<rect x="1640" y="556" width="2" height="1" fill="#000"/>
<text transform="translate(1645.20 559.90) scale(0.94 1)" font-size="9.8" fill="#000">1.29760</text>
<rect x="1640" y="589" width="2" height="1" fill="#000"/>
<text transform="translate(1645.20 592.90) scale(0.94 1)" font-size="9.8" fill="#000">1.29380</text>
<rect x="1641" y="50" width="41" height="11" fill="#ff0000"/>
<text transform="translate(1645.20 58.90) scale(0.94 1)" font-size="9.8" fill="#fff">1.35606</text>
<rect x="1641" y="170" width="41" height="11" fill="#ff0000"/>
<text transform="translate(1645.20 178.90) scale(0.94 1)" font-size="9.8" fill="#fff">1.34206</text>
<rect x="1641" y="272" width="41" height="11" fill="#00ff00"/>
<text transform="translate(1645.20 280.90) scale(0.94 1)" font-size="9.8" fill="#fff">1.33011</text>
<rect x="1641" y="315" width="41" height="11" fill="#000000"/>
<text transform="translate(1645.20 323.90) scale(0.94 1)" font-size="9.8" fill="#fff">1.32521</text>
<rect x="1641" y="410" width="41" height="11" fill="#0000ff"/>
<text transform="translate(1645.20 418.90) scale(0.94 1)" font-size="9.8" fill="#fff">1.31405</text>
<rect x="1641" y="517" width="41" height="11" fill="#0000ff"/>
<text transform="translate(1645.20 525.90) scale(0.94 1)" font-size="9.8" fill="#fff">1.30152</text>
<g clip-path="url(#cr)">
<line x1="3" y1="626.5" x2="1639" y2="626.5" stroke="#c0c0c0" stroke-width="1" stroke-dasharray="3,3"/>
<line x1="3" y1="667.5" x2="1639" y2="667.5" stroke="#c0c0c0" stroke-width="1" stroke-dasharray="3,3"/>
<polyline points="3.5,661.4 7.5,655.2 11.5,645.4 15.5,644.4 19.5,645.0 23.5,640.5 27.5,646.5 31.5,649.4 35.5,640.8 39.5,644.9 43.5,647.5 47.5,649.2 51.5,646.8 55.5,655.1 59.5,653.6 63.5,653.2 67.5,657.5 71.5,652.7 75.5,650.4 79.5,655.3 83.5,652.9 87.5,644.3 91.5,639.4 95.5,637.6 99.5,635.9 103.5,630.3 107.5,629.4 111.5,629.2 115.5,633.0 119.5,632.5 123.5,637.8 127.5,645.4 131.5,645.6 135.5,643.3 139.5,642.2 143.5,642.4 147.5,649.1 151.5,644.9 155.5,640.0 159.5,636.3 163.5,635.6 167.5,635.1 171.5,639.8 175.5,635.0 179.5,636.7 183.5,646.2 187.5,646.8 191.5,647.3 195.5,646.1 199.5,652.0 203.5,645.8 207.5,641.9 211.5,641.7 215.5,651.8 219.5,650.9 223.5,650.6 227.5,643.0 231.5,648.8 235.5,648.9 239.5,643.6 243.5,647.3 247.5,647.3 251.5,643.3 255.5,643.9 259.5,642.0 263.5,646.8 267.5,637.9 271.5,633.2 275.5,630.5 279.5,637.5 283.5,636.5 287.5,638.6 291.5,641.8 295.5,643.3 299.5,637.0 303.5,644.1 307.5,643.5 311.5,641.1 315.5,637.8 319.5,639.9 323.5,636.1 327.5,645.9 331.5,646.7 335.5,640.9 339.5,641.1 343.5,646.2 347.5,645.9 351.5,639.9 355.5,645.3 359.5,646.1 363.5,647.9 367.5,649.5 371.5,641.1 375.5,643.9 379.5,645.8 383.5,646.6 387.5,641.0 391.5,633.6 395.5,638.4 399.5,636.4 403.5,637.0 407.5,645.0 411.5,652.3 415.5,653.6 419.5,657.6 423.5,665.6 427.5,666.7 431.5,667.4 435.5,662.2 439.5,660.8 443.5,655.4 447.5,648.0 451.5,643.5 455.5,646.1 459.5,646.5 463.5,651.1 467.5,665.0 471.5,663.6 475.5,664.4 479.5,665.2 483.5,667.7 487.5,671.2 491.5,670.2 495.5,671.8 499.5,672.4 503.5,664.4 507.5,665.1 511.5,668.8 515.5,669.9 519.5,660.6 523.5,662.4 527.5,662.1 531.5,656.4 535.5,658.6 539.5,661.7 543.5,664.5 547.5,665.3 551.5,664.2 555.5,663.0 559.5,663.1 563.5,653.5 567.5,654.7 571.5,657.3 575.5,647.9 579.5,644.4 583.5,645.2 587.5,643.5 591.5,637.6 595.5,640.6 599.5,644.2 603.5,641.3 607.5,646.3 611.5,637.5 615.5,636.0 619.5,637.5 623.5,640.3 627.5,633.2 631.5,626.2 635.5,639.7 639.5,641.5 643.5,643.1 647.5,641.1 651.5,642.6 655.5,632.9 659.5,632.6 663.5,639.0 667.5,640.1 671.5,636.5 675.5,634.1 679.5,641.8 683.5,639.0 687.5,637.4 691.5,641.2 695.5,643.9 699.5,643.8 703.5,640.5 707.5,641.3 711.5,642.0 715.5,637.9 719.5,638.3 723.5,636.6 727.5,650.5 731.5,651.5 735.5,659.4 739.5,658.5 743.5,662.1 747.5,661.8 751.5,652.0 755.5,650.6 759.5,642.6 763.5,641.0 767.5,646.7 771.5,645.6 775.5,641.1 779.5,644.9 783.5,643.7 787.5,642.4 791.5,643.4 795.5,646.5 799.5,642.5 803.5,643.8 807.5,646.4 811.5,648.5 815.5,648.5 819.5,650.8 823.5,637.3 827.5,636.1 831.5,634.8 835.5,636.8 839.5,640.8 843.5,636.5 847.5,637.8 851.5,647.8 855.5,659.9 859.5,659.7 863.5,652.0 867.5,655.3 871.5,656.4 875.5,662.3 879.5,662.5 883.5,663.7 887.5,665.9 891.5,667.2 895.5,666.2 899.5,667.2 903.5,668.8 907.5,669.1 911.5,668.3 915.5,664.0 919.5,643.8 923.5,650.0 927.5,649.0 931.5,649.0 935.5,648.4 939.5,646.7 943.5,643.7 947.5,644.0 951.5,637.1 955.5,635.1 959.5,638.4 963.5,635.6 967.5,633.7 971.5,632.1 975.5,640.2 979.5,638.1 983.5,642.4 987.5,639.8 991.5,630.1 995.5,634.1 999.5,632.8 1003.5,632.0 1007.5,629.6 1011.5,634.8 1015.5,636.4 1019.5,636.1 1023.5,637.6 1027.5,638.1 1031.5,633.1 1035.5,637.0 1039.5,650.4 1043.5,658.3 1047.5,644.0 1051.5,645.6 1055.5,649.7 1059.5,648.9 1063.5,651.4 1067.5,654.7 1071.5,653.2 1075.5,655.7 1079.5,660.0 1083.5,658.9 1087.5,664.0 1091.5,660.7 1095.5,653.3 1099.5,652.8 1103.5,652.4 1107.5,655.0 1111.5,653.3 1115.5,659.8 1119.5,663.9 1123.5,665.6 1127.5,667.4 1131.5,674.7 1135.5,671.1 1139.5,671.7 1143.5,670.8 1147.5,669.4 1151.5,670.7 1155.5,660.5 1159.5,656.3 1163.5,645.5 1167.5,652.1 1171.5,650.8 1175.5,652.0 1179.5,649.1 1183.5,652.3 1187.5,652.7 1191.5,650.1 1195.5,648.9 1199.5,650.1 1203.5,648.6 1207.5,638.6 1211.5,634.5 1215.5,636.5 1219.5,636.0 1223.5,630.9 1227.5,630.5 1231.5,627.5 1235.5,625.3 1239.5,625.1 1243.5,624.2 1247.5,620.9 1251.5,619.3 1255.5,618.1 1259.5,617.7 1263.5,617.0 1267.5,619.6 1271.5,617.3 1275.5,627.2 1279.5,635.5 1283.5,636.9 1287.5,636.5 1291.5,638.0 1295.5,641.4 1299.5,638.2 1303.5,638.9" fill="none" stroke="#1e90ff" stroke-width="1" stroke-linejoin="round"/>
</g>
<text transform="translate(6.90 607.20) scale(0.975 1)" font-size="9.8" fill="#000">RSI(14) 57.8737</text>
<rect x="1640" y="596" width="2" height="1" fill="#000"/>
<text transform="translate(1643.00 605.00) scale(0.955 1)" font-size="9.8" fill="#000">100</text>
<text transform="translate(1643.00 630.00) scale(0.955 1)" font-size="9.8" fill="#000">70</text>
<text transform="translate(1643.00 671.00) scale(0.955 1)" font-size="9.8" fill="#000">30</text>
<text transform="translate(1643.00 695.00) scale(0.955 1)" font-size="9.8" fill="#000">0</text>
<g clip-path="url(#cd)">
<rect x="3" y="744" width="1" height="42" fill="#c0c0c0"/>
<rect x="7" y="744" width="1" height="39" fill="#c0c0c0"/>
<rect x="11" y="744" width="1" height="32" fill="#c0c0c0"/>
<rect x="15" y="744" width="1" height="26" fill="#c0c0c0"/>
<rect x="19" y="744" width="1" height="21" fill="#c0c0c0"/>
<rect x="23" y="744" width="1" height="15" fill="#c0c0c0"/>
<rect x="27" y="744" width="1" height="12" fill="#c0c0c0"/>
<rect x="31" y="744" width="1" height="12" fill="#c0c0c0"/>
<rect x="35" y="744" width="1" height="7" fill="#c0c0c0"/>
<rect x="39" y="744" width="1" height="4" fill="#c0c0c0"/>
<rect x="43" y="744" width="1" height="4" fill="#c0c0c0"/>
<rect x="47" y="744" width="1" height="5" fill="#c0c0c0"/>
<rect x="51" y="744" width="1" height="4" fill="#c0c0c0"/>
<rect x="55" y="744" width="1" height="8" fill="#c0c0c0"/>
<rect x="59" y="744" width="1" height="10" fill="#c0c0c0"/>
<rect x="63" y="744" width="1" height="12" fill="#c0c0c0"/>
<rect x="67" y="744" width="1" height="15" fill="#c0c0c0"/>
<rect x="71" y="744" width="1" height="16" fill="#c0c0c0"/>
<rect x="75" y="744" width="1" height="15" fill="#c0c0c0"/>
<rect x="79" y="744" width="1" height="17" fill="#c0c0c0"/>
<rect x="83" y="744" width="1" height="18" fill="#c0c0c0"/>
<rect x="87" y="744" width="1" height="14" fill="#c0c0c0"/>
<rect x="91" y="744" width="1" height="7" fill="#c0c0c0"/>
<rect x="95" y="744" width="1" height="1" fill="#c0c0c0"/>
<rect x="99" y="739" width="1" height="5" fill="#c0c0c0"/>
<rect x="103" y="731" width="1" height="13" fill="#c0c0c0"/>
<rect x="107" y="723" width="1" height="21" fill="#c0c0c0"/>
<rect x="111" y="718" width="1" height="26" fill="#c0c0c0"/>
<rect x="115" y="715" width="1" height="29" fill="#c0c0c0"/>
<rect x="119" y="713" width="1" height="31" fill="#c0c0c0"/>
<rect x="123" y="714" width="1" height="30" fill="#c0c0c0"/>
<rect x="127" y="718" width="1" height="26" fill="#c0c0c0"/>
<rect x="131" y="721" width="1" height="23" fill="#c0c0c0"/>
<rect x="135" y="723" width="1" height="21" fill="#c0c0c0"/>
<rect x="139" y="725" width="1" height="19" fill="#c0c0c0"/>
<rect x="143" y="726" width="1" height="18" fill="#c0c0c0"/>
<rect x="147" y="730" width="1" height="14" fill="#c0c0c0"/>
<rect x="151" y="731" width="1" height="13" fill="#c0c0c0"/>
<rect x="155" y="730" width="1" height="14" fill="#c0c0c0"/>
<rect x="159" y="728" width="1" height="16" fill="#c0c0c0"/>
<rect x="163" y="726" width="1" height="18" fill="#c0c0c0"/>
<rect x="167" y="724" width="1" height="20" fill="#c0c0c0"/>
<rect x="171" y="724" width="1" height="20" fill="#c0c0c0"/>
<rect x="175" y="723" width="1" height="21" fill="#c0c0c0"/>
<rect x="179" y="722" width="1" height="22" fill="#c0c0c0"/>
<rect x="183" y="725" width="1" height="19" fill="#c0c0c0"/>
<rect x="187" y="728" width="1" height="16" fill="#c0c0c0"/>
<rect x="191" y="731" width="1" height="13" fill="#c0c0c0"/>
<rect x="195" y="733" width="1" height="11" fill="#c0c0c0"/>
<rect x="199" y="737" width="1" height="7" fill="#c0c0c0"/>
<rect x="203" y="738" width="1" height="6" fill="#c0c0c0"/>
<rect x="207" y="737" width="1" height="7" fill="#c0c0c0"/>
<rect x="211" y="736" width="1" height="8" fill="#c0c0c0"/>
<rect x="215" y="739" width="1" height="5" fill="#c0c0c0"/>
<rect x="219" y="742" width="1" height="2" fill="#c0c0c0"/>
<rect x="223" y="744" width="1" height="1" fill="#c0c0c0"/>
<rect x="227" y="742" width="1" height="2" fill="#c0c0c0"/>
<rect x="231" y="743" width="1" height="1" fill="#c0c0c0"/>
<rect x="235" y="744" width="1" height="1" fill="#c0c0c0"/>
<rect x="239" y="743" width="1" height="1" fill="#c0c0c0"/>
<rect x="243" y="744" width="1" height="1" fill="#c0c0c0"/>
<rect x="247" y="744" width="1" height="1" fill="#c0c0c0"/>
<rect x="251" y="743" width="1" height="1" fill="#c0c0c0"/>
<rect x="255" y="742" width="1" height="2" fill="#c0c0c0"/>
<rect x="259" y="741" width="1" height="3" fill="#c0c0c0"/>
<rect x="263" y="741" width="1" height="3" fill="#c0c0c0"/>
<rect x="267" y="738" width="1" height="6" fill="#c0c0c0"/>
<rect x="271" y="734" width="1" height="10" fill="#c0c0c0"/>
<rect x="275" y="729" width="1" height="15" fill="#c0c0c0"/>
<rect x="279" y="727" width="1" height="17" fill="#c0c0c0"/>
<rect x="283" y="726" width="1" height="18" fill="#c0c0c0"/>
<rect x="287" y="726" width="1" height="18" fill="#c0c0c0"/>
<rect x="291" y="727" width="1" height="17" fill="#c0c0c0"/>
<rect x="295" y="728" width="1" height="16" fill="#c0c0c0"/>
<rect x="299" y="727" width="1" height="17" fill="#c0c0c0"/>
<rect x="303" y="729" width="1" height="15" fill="#c0c0c0"/>
<rect x="307" y="730" width="1" height="14" fill="#c0c0c0"/>
<rect x="311" y="730" width="1" height="14" fill="#c0c0c0"/>
<rect x="315" y="729" width="1" height="15" fill="#c0c0c0"/>
<rect x="319" y="729" width="1" height="15" fill="#c0c0c0"/>
<rect x="323" y="727" width="1" height="17" fill="#c0c0c0"/>
<rect x="327" y="730" width="1" height="14" fill="#c0c0c0"/>
<rect x="331" y="732" width="1" height="12" fill="#c0c0c0"/>
<rect x="335" y="732" width="1" height="12" fill="#c0c0c0"/>
<rect x="339" y="732" width="1" height="12" fill="#c0c0c0"/>
<rect x="343" y="733" width="1" height="11" fill="#c0c0c0"/>
<rect x="347" y="735" width="1" height="9" fill="#c0c0c0"/>
<rect x="351" y="734" width="1" height="10" fill="#c0c0c0"/>
<rect x="355" y="735" width="1" height="9" fill="#c0c0c0"/>
<rect x="359" y="736" width="1" height="8" fill="#c0c0c0"/>
<rect x="363" y="738" width="1" height="6" fill="#c0c0c0"/>
<rect x="367" y="740" width="1" height="4" fill="#c0c0c0"/>
<rect x="371" y="738" width="1" height="6" fill="#c0c0c0"/>
<rect x="375" y="738" width="1" height="6" fill="#c0c0c0"/>
<rect x="379" y="739" width="1" height="5" fill="#c0c0c0"/>
<rect x="383" y="740" width="1" height="4" fill="#c0c0c0"/>
<rect x="387" y="739" width="1" height="5" fill="#c0c0c0"/>
<rect x="391" y="735" width="1" height="9" fill="#c0c0c0"/>
<rect x="395" y="733" width="1" height="11" fill="#c0c0c0"/>
<rect x="399" y="731" width="1" height="13" fill="#c0c0c0"/>
<rect x="403" y="730" width="1" height="14" fill="#c0c0c0"/>
<rect x="407" y="731" width="1" height="13" fill="#c0c0c0"/>
<rect x="411" y="736" width="1" height="8" fill="#c0c0c0"/>
<rect x="415" y="740" width="1" height="4" fill="#c0c0c0"/>
<rect x="419" y="744" width="1" height="1" fill="#c0c0c0"/>
<rect x="423" y="744" width="1" height="9" fill="#c0c0c0"/>
<rect x="427" y="744" width="1" height="16" fill="#c0c0c0"/>
<rect x="431" y="744" width="1" height="22" fill="#c0c0c0"/>
<rect x="435" y="744" width="1" height="25" fill="#c0c0c0"/>
<rect x="439" y="744" width="1" height="27" fill="#c0c0c0"/>
<rect x="443" y="744" width="1" height="26" fill="#c0c0c0"/>
<rect x="447" y="744" width="1" height="22" fill="#c0c0c0"/>
<rect x="451" y="744" width="1" height="18" fill="#c0c0c0"/>
<rect x="455" y="744" width="1" height="15" fill="#c0c0c0"/>
<rect x="459" y="744" width="1" height="12" fill="#c0c0c0"/>
<rect x="463" y="744" width="1" height="12" fill="#c0c0c0"/>
<rect x="467" y="744" width="1" height="20" fill="#c0c0c0"/>
<rect x="471" y="744" width="1" height="25" fill="#c0c0c0"/>
<rect x="475" y="744" width="1" height="29" fill="#c0c0c0"/>
<rect x="479" y="744" width="1" height="33" fill="#c0c0c0"/>
<rect x="483" y="744" width="1" height="37" fill="#c0c0c0"/>
<rect x="487" y="744" width="1" height="43" fill="#c0c0c0"/>
<rect x="491" y="744" width="1" height="47" fill="#c0c0c0"/>
<rect x="495" y="744" width="1" height="50" fill="#c0c0c0"/>
<rect x="499" y="744" width="1" height="53" fill="#c0c0c0"/>
<rect x="503" y="744" width="1" height="52" fill="#c0c0c0"/>
<rect x="507" y="744" width="1" height="52" fill="#c0c0c0"/>
<rect x="511" y="744" width="1" height="53" fill="#c0c0c0"/>
<rect x="515" y="744" width="1" height="54" fill="#c0c0c0"/>
<rect x="519" y="744" width="1" height="52" fill="#c0c0c0"/>
<rect x="523" y="744" width="1" height="50" fill="#c0c0c0"/>
<rect x="527" y="744" width="1" height="49" fill="#c0c0c0"/>
<rect x="531" y="744" width="1" height="45" fill="#c0c0c0"/>
<rect x="535" y="744" width="1" height="42" fill="#c0c0c0"/>
<rect x="539" y="744" width="1" height="42" fill="#c0c0c0"/>
<rect x="543" y="744" width="1" height="42" fill="#c0c0c0"/>
<rect x="547" y="744" width="1" height="43" fill="#c0c0c0"/>
<rect x="551" y="744" width="1" height="42" fill="#c0c0c0"/>
<rect x="555" y="744" width="1" height="41" fill="#c0c0c0"/>
<rect x="559" y="744" width="1" height="40" fill="#c0c0c0"/>
<rect x="563" y="744" width="1" height="36" fill="#c0c0c0"/>
<rect x="567" y="744" width="1" height="33" fill="#c0c0c0"/>
<rect x="571" y="744" width="1" height="31" fill="#c0c0c0"/>
<rect x="575" y="744" width="1" height="27" fill="#c0c0c0"/>
<rect x="579" y="744" width="1" height="21" fill="#c0c0c0"/>
<rect x="583" y="744" width="1" height="17" fill="#c0c0c0"/>
<rect x="587" y="744" width="1" height="14" fill="#c0c0c0"/>
<rect x="591" y="744" width="1" height="8" fill="#c0c0c0"/>
<rect x="595" y="744" width="1" height="5" fill="#c0c0c0"/>
<rect x="599" y="744" width="1" height="3" fill="#c0c0c0"/>
<rect x="603" y="744" width="1" height="1" fill="#c0c0c0"/>
<rect x="607" y="744" width="1" height="1" fill="#c0c0c0"/>
<rect x="611" y="741" width="1" height="3" fill="#c0c0c0"/>
<rect x="615" y="737" width="1" height="7" fill="#c0c0c0"/>
<rect x="619" y="735" width="1" height="9" fill="#c0c0c0"/>
<rect x="623" y="734" width="1" height="10" fill="#c0c0c0"/>
<rect x="627" y="731" width="1" height="13" fill="#c0c0c0"/>
<rect x="631" y="724" width="1" height="20" fill="#c0c0c0"/>
<rect x="635" y="724" width="1" height="20" fill="#c0c0c0"/>
<rect x="639" y="724" width="1" height="20" fill="#c0c0c0"/>
<rect x="643" y="726" width="1" height="18" fill="#c0c0c0"/>
<rect x="647" y="726" width="1" height="18" fill="#c0c0c0"/>
<rect x="651" y="727" width="1" height="17" fill="#c0c0c0"/>
<rect x="655" y="723" width="1" height="21" fill="#c0c0c0"/>
<rect x="659" y="720" width="1" height="24" fill="#c0c0c0"/>
<rect x="663" y="720" width="1" height="24" fill="#c0c0c0"/>
<rect x="667" y="721" width="1" height="23" fill="#c0c0c0"/>
<rect x="671" y="720" width="1" height="24" fill="#c0c0c0"/>
<rect x="675" y="718" width="1" height="26" fill="#c0c0c0"/>
<rect x="679" y="720" width="1" height="24" fill="#c0c0c0"/>
<rect x="683" y="720" width="1" height="24" fill="#c0c0c0"/>
<rect x="687" y="720" width="1" height="24" fill="#c0c0c0"/>
<rect x="691" y="721" width="1" height="23" fill="#c0c0c0"/>
<rect x="695" y="724" width="1" height="20" fill="#c0c0c0"/>
<rect x="699" y="726" width="1" height="18" fill="#c0c0c0"/>
<rect x="703" y="726" width="1" height="18" fill="#c0c0c0"/>
<rect x="707" y="727" width="1" height="17" fill="#c0c0c0"/>
<rect x="711" y="728" width="1" height="16" fill="#c0c0c0"/>
<rect x="715" y="728" width="1" height="16" fill="#c0c0c0"/>
<rect x="719" y="727" width="1" height="17" fill="#c0c0c0"/>
<rect x="723" y="727" width="1" height="17" fill="#c0c0c0"/>
<rect x="727" y="731" width="1" height="13" fill="#c0c0c0"/>
<rect x="731" y="735" width="1" height="9" fill="#c0c0c0"/>
<rect x="735" y="742" width="1" height="2" fill="#c0c0c0"/>
<rect x="739" y="744" width="1" height="3" fill="#c0c0c0"/>
<rect x="743" y="744" width="1" height="8" fill="#c0c0c0"/>
<rect x="747" y="744" width="1" height="13" fill="#c0c0c0"/>
<rect x="751" y="744" width="1" height="13" fill="#c0c0c0"/>
<rect x="755" y="744" width="1" height="12" fill="#c0c0c0"/>
<rect x="759" y="744" width="1" height="9" fill="#c0c0c0"/>
<rect x="763" y="744" width="1" height="5" fill="#c0c0c0"/>
<rect x="767" y="744" width="1" height="4" fill="#c0c0c0"/>
<rect x="771" y="744" width="1" height="3" fill="#c0c0c0"/>
<rect x="775" y="744" width="1" height="1" fill="#c0c0c0"/>
<rect x="779" y="744" width="1" height="1" fill="#c0c0c0"/>
<rect x="783" y="743" width="1" height="1" fill="#c0c0c0"/>
<rect x="787" y="741" width="1" height="3" fill="#c0c0c0"/>
<rect x="791" y="741" width="1" height="3" fill="#c0c0c0"/>
<rect x="795" y="741" width="1" height="3" fill="#c0c0c0"/>
<rect x="799" y="740" width="1" height="4" fill="#c0c0c0"/>
<rect x="803" y="740" width="1" height="4" fill="#c0c0c0"/>
<rect x="807" y="740" width="1" height="4" fill="#c0c0c0"/>
<rect x="811" y="742" width="1" height="2" fill="#c0c0c0"/>
<rect x="815" y="742" width="1" height="2" fill="#c0c0c0"/>
<rect x="819" y="744" width="1" height="1" fill="#c0c0c0"/>
<rect x="823" y="741" width="1" height="3" fill="#c0c0c0"/>
<rect x="827" y="738" width="1" height="6" fill="#c0c0c0"/>
<rect x="831" y="735" width="1" height="9" fill="#c0c0c0"/>
<rect x="835" y="734" width="1" height="10" fill="#c0c0c0"/>
<rect x="839" y="733" width="1" height="11" fill="#c0c0c0"/>
<rect x="843" y="732" width="1" height="12" fill="#c0c0c0"/>
<rect x="847" y="731" width="1" height="13" fill="#c0c0c0"/>
<rect x="851" y="734" width="1" height="10" fill="#c0c0c0"/>
<rect x="855" y="741" width="1" height="3" fill="#c0c0c0"/>
<rect x="859" y="744" width="1" height="2" fill="#c0c0c0"/>
<rect x="863" y="744" width="1" height="4" fill="#c0c0c0"/>
<rect x="867" y="744" width="1" height="6" fill="#c0c0c0"/>
<rect x="871" y="744" width="1" height="9" fill="#c0c0c0"/>
<rect x="875" y="744" width="1" height="14" fill="#c0c0c0"/>
<rect x="879" y="744" width="1" height="18" fill="#c0c0c0"/>
<rect x="883" y="744" width="1" height="21" fill="#c0c0c0"/>
<rect x="887" y="744" width="1" height="24" fill="#c0c0c0"/>
<rect x="891" y="744" width="1" height="28" fill="#c0c0c0"/>
<rect x="895" y="744" width="1" height="30" fill="#c0c0c0"/>
<rect x="899" y="744" width="1" height="31" fill="#c0c0c0"/>
<rect x="903" y="744" width="1" height="33" fill="#c0c0c0"/>
<rect x="907" y="744" width="1" height="34" fill="#c0c0c0"/>
<rect x="911" y="744" width="1" height="35" fill="#c0c0c0"/>
<rect x="915" y="744" width="1" height="34" fill="#c0c0c0"/>
<rect x="919" y="744" width="1" height="28" fill="#c0c0c0"/>
<rect x="923" y="744" width="1" height="24" fill="#c0c0c0"/>
<rect x="927" y="744" width="1" height="21" fill="#c0c0c0"/>
<rect x="931" y="744" width="1" height="19" fill="#c0c0c0"/>
<rect x="935" y="744" width="1" height="16" fill="#c0c0c0"/>
<rect x="939" y="744" width="1" height="14" fill="#c0c0c0"/>
<rect x="943" y="744" width="1" height="11" fill="#c0c0c0"/>
<rect x="947" y="744" width="1" height="8" fill="#c0c0c0"/>
<rect x="951" y="744" width="1" height="4" fill="#c0c0c0"/>
<rect x="955" y="744" width="1" height="1" fill="#c0c0c0"/>
<rect x="959" y="742" width="1" height="2" fill="#c0c0c0"/>
<rect x="963" y="739" width="1" height="5" fill="#c0c0c0"/>
<rect x="967" y="736" width="1" height="8" fill="#c0c0c0"/>
<rect x="971" y="734" width="1" height="10" fill="#c0c0c0"/>
<rect x="975" y="734" width="1" height="10" fill="#c0c0c0"/>
<rect x="979" y="733" width="1" height="11" fill="#c0c0c0"/>
<rect x="983" y="733" width="1" height="11" fill="#c0c0c0"/>
<rect x="987" y="733" width="1" height="11" fill="#c0c0c0"/>
<rect x="991" y="730" width="1" height="14" fill="#c0c0c0"/>
<rect x="995" y="728" width="1" height="16" fill="#c0c0c0"/>
<rect x="999" y="727" width="1" height="17" fill="#c0c0c0"/>
<rect x="1003" y="725" width="1" height="19" fill="#c0c0c0"/>
<rect x="1007" y="723" width="1" height="21" fill="#c0c0c0"/>
<rect x="1011" y="723" width="1" height="21" fill="#c0c0c0"/>
<rect x="1015" y="724" width="1" height="20" fill="#c0c0c0"/>
<rect x="1019" y="724" width="1" height="20" fill="#c0c0c0"/>
<rect x="1023" y="725" width="1" height="19" fill="#c0c0c0"/>
<rect x="1027" y="726" width="1" height="18" fill="#c0c0c0"/>
<rect x="1031" y="726" width="1" height="18" fill="#c0c0c0"/>
<rect x="1035" y="727" width="1" height="17" fill="#c0c0c0"/>
<rect x="1039" y="730" width="1" height="14" fill="#c0c0c0"/>
<rect x="1043" y="736" width="1" height="8" fill="#c0c0c0"/>
<rect x="1047" y="736" width="1" height="8" fill="#c0c0c0"/>
<rect x="1051" y="737" width="1" height="7" fill="#c0c0c0"/>
<rect x="1055" y="739" width="1" height="5" fill="#c0c0c0"/>
<rect x="1059" y="741" width="1" height="3" fill="#c0c0c0"/>
<rect x="1063" y="743" width="1" height="1" fill="#c0c0c0"/>
<rect x="1067" y="744" width="1" height="2" fill="#c0c0c0"/>
<rect x="1071" y="744" width="1" height="4" fill="#c0c0c0"/>
<rect x="1075" y="744" width="1" height="6" fill="#c0c0c0"/>
<rect x="1079" y="744" width="1" height="9" fill="#c0c0c0"/>
<rect x="1083" y="744" width="1" height="12" fill="#c0c0c0"/>
<rect x="1087" y="744" width="1" height="15" fill="#c0c0c0"/>
<rect x="1091" y="744" width="1" height="18" fill="#c0c0c0"/>
<rect x="1095" y="744" width="1" height="17" fill="#c0c0c0"/>
<rect x="1099" y="744" width="1" height="16" fill="#c0c0c0"/>
<rect x="1103" y="744" width="1" height="15" fill="#c0c0c0"/>
<rect x="1107" y="744" width="1" height="15" fill="#c0c0c0"/>
<rect x="1111" y="744" width="1" height="15" fill="#c0c0c0"/>
<rect x="1115" y="744" width="1" height="16" fill="#c0c0c0"/>
<rect x="1119" y="744" width="1" height="19" fill="#c0c0c0"/>
<rect x="1123" y="744" width="1" height="22" fill="#c0c0c0"/>
<rect x="1127" y="744" width="1" height="25" fill="#c0c0c0"/>
<rect x="1131" y="744" width="1" height="31" fill="#c0c0c0"/>
<rect x="1135" y="744" width="1" height="35" fill="#c0c0c0"/>
<rect x="1139" y="744" width="1" height="38" fill="#c0c0c0"/>
<rect x="1143" y="744" width="1" height="39" fill="#c0c0c0"/>
<rect x="1147" y="744" width="1" height="40" fill="#c0c0c0"/>
<rect x="1151" y="744" width="1" height="41" fill="#c0c0c0"/>
<rect x="1155" y="744" width="1" height="39" fill="#c0c0c0"/>
<rect x="1159" y="744" width="1" height="36" fill="#c0c0c0"/>
<rect x="1163" y="744" width="1" height="30" fill="#c0c0c0"/>
<rect x="1167" y="744" width="1" height="27" fill="#c0c0c0"/>
<rect x="1171" y="744" width="1" height="24" fill="#c0c0c0"/>
<rect x="1175" y="744" width="1" height="22" fill="#c0c0c0"/>
<rect x="1179" y="744" width="1" height="19" fill="#c0c0c0"/>
<rect x="1183" y="744" width="1" height="18" fill="#c0c0c0"/>
<rect x="1187" y="744" width="1" height="17" fill="#c0c0c0"/>
<rect x="1191" y="744" width="1" height="15" fill="#c0c0c0"/>
<rect x="1195" y="744" width="1" height="14" fill="#c0c0c0"/>
<rect x="1199" y="744" width="1" height="12" fill="#c0c0c0"/>
<rect x="1203" y="744" width="1" height="11" fill="#c0c0c0"/>
<rect x="1207" y="744" width="1" height="7" fill="#c0c0c0"/>
<rect x="1211" y="744" width="1" height="2" fill="#c0c0c0"/>
<rect x="1215" y="743" width="1" height="1" fill="#c0c0c0"/>
<rect x="1219" y="740" width="1" height="4" fill="#c0c0c0"/>
<rect x="1223" y="736" width="1" height="8" fill="#c0c0c0"/>
<rect x="1227" y="733" width="1" height="11" fill="#c0c0c0"/>
<rect x="1231" y="729" width="1" height="15" fill="#c0c0c0"/>
<rect x="1235" y="725" width="1" height="19" fill="#c0c0c0"/>
<rect x="1239" y="723" width="1" height="21" fill="#c0c0c0"/>
<rect x="1243" y="720" width="1" height="24" fill="#c0c0c0"/>
<rect x="1247" y="717" width="1" height="27" fill="#c0c0c0"/>
<rect x="1251" y="714" width="1" height="30" fill="#c0c0c0"/>
<rect x="1255" y="712" width="1" height="32" fill="#c0c0c0"/>
<rect x="1259" y="710" width="1" height="34" fill="#c0c0c0"/>
<rect x="1263" y="708" width="1" height="36" fill="#c0c0c0"/>
<rect x="1267" y="708" width="1" height="36" fill="#c0c0c0"/>
<rect x="1271" y="707" width="1" height="37" fill="#c0c0c0"/>
<rect x="1275" y="708" width="1" height="36" fill="#c0c0c0"/>
<rect x="1279" y="711" width="1" height="33" fill="#c0c0c0"/>
<rect x="1283" y="714" width="1" height="30" fill="#c0c0c0"/>
<rect x="1287" y="716" width="1" height="28" fill="#c0c0c0"/>
<rect x="1291" y="719" width="1" height="25" fill="#c0c0c0"/>
<rect x="1295" y="722" width="1" height="22" fill="#c0c0c0"/>
<rect x="1299" y="724" width="1" height="20" fill="#c0c0c0"/>
<rect x="1303" y="725" width="1" height="19" fill="#c0c0c0"/>
<polyline points="3.5,777.1 7.5,778.8 11.5,779.7 15.5,780.0 19.5,779.4 23.5,777.1 27.5,774.0 31.5,770.8 35.5,766.9 39.5,762.8 43.5,758.8 47.5,755.8 51.5,753.3 55.5,751.8 59.5,751.3 63.5,751.3 67.5,751.7 71.5,752.7 75.5,753.9 79.5,755.4 83.5,756.8 87.5,757.9 91.5,757.8 95.5,756.8 99.5,755.0 103.5,751.8 107.5,747.7 111.5,743.1 115.5,737.9 119.5,732.5 123.5,727.6 127.5,723.9 131.5,721.3 135.5,719.5 139.5,718.8 143.5,719.1 147.5,720.5 151.5,722.3 155.5,724.2 159.5,725.8 163.5,726.7 167.5,727.0 171.5,727.1 175.5,726.9 179.5,726.5 183.5,726.0 187.5,725.7 191.5,725.7 195.5,726.3 199.5,727.5 203.5,729.0 207.5,730.4 211.5,731.9 215.5,733.8 219.5,735.6 223.5,737.3 227.5,738.6 231.5,739.8 235.5,740.6 239.5,741.2 243.5,742.0 247.5,742.9 251.5,743.2 255.5,743.2 259.5,742.9 263.5,742.8 267.5,742.2 271.5,741.0 275.5,739.4 279.5,737.6 283.5,735.6 287.5,733.8 291.5,732.1 295.5,730.7 299.5,729.1 303.5,728.0 307.5,727.6 311.5,727.7 315.5,727.9 319.5,728.2 323.5,728.4 327.5,728.7 331.5,729.1 335.5,729.7 339.5,730.0 343.5,730.4 347.5,730.9 351.5,731.4 355.5,732.1 359.5,733.1 363.5,734.0 367.5,734.8 371.5,735.6 375.5,736.3 379.5,737.0 383.5,737.5 387.5,738.1 391.5,738.0 395.5,737.7 399.5,736.9 403.5,735.8 407.5,735.0 411.5,734.7 415.5,734.7 419.5,735.3 423.5,736.9 427.5,739.7 431.5,743.4 435.5,747.7 439.5,752.2 443.5,756.5 447.5,760.0 451.5,762.4 455.5,764.0 459.5,764.3 463.5,763.9 467.5,763.6 471.5,763.6 475.5,763.9 479.5,764.7 483.5,766.3 487.5,769.2 491.5,772.7 495.5,777.0 499.5,781.5 503.5,785.2 507.5,788.1 511.5,790.8 515.5,793.1 519.5,794.7 523.5,795.5 527.5,795.8 531.5,795.1 535.5,794.0 539.5,792.8 543.5,791.7 547.5,790.6 551.5,789.3 555.5,788.1 559.5,786.9 563.5,785.5 567.5,784.2 571.5,782.9 575.5,781.2 579.5,778.9 583.5,776.1 587.5,772.9 591.5,769.3 595.5,765.4 599.5,761.7 603.5,758.2 607.5,754.8 611.5,751.5 615.5,748.3 619.5,745.4 623.5,742.8 627.5,740.5 631.5,737.7 635.5,735.1 639.5,732.9 643.5,730.8 647.5,729.2 651.5,728.1 655.5,726.7 659.5,725.2 663.5,724.0 667.5,723.7 671.5,723.3 675.5,722.6 679.5,722.0 683.5,721.3 687.5,720.5 691.5,720.3 695.5,720.7 699.5,721.3 703.5,721.9 707.5,722.6 711.5,723.7 715.5,724.5 719.5,725.3 723.5,726.0 727.5,727.1 731.5,728.3 735.5,730.1 739.5,732.3 743.5,735.1 747.5,738.3 751.5,741.6 755.5,744.8 759.5,747.7 763.5,749.7 767.5,751.2 771.5,751.8 775.5,751.6 779.5,750.6 783.5,749.1 787.5,747.3 791.5,745.6 795.5,744.3 799.5,743.3 803.5,742.4 807.5,741.6 811.5,741.3 815.5,741.1 819.5,741.3 823.5,741.2 827.5,740.9 831.5,740.2 835.5,739.5 839.5,738.8 843.5,737.9 847.5,736.7 851.5,735.8 855.5,735.4 859.5,736.0 863.5,737.1 867.5,738.8 871.5,740.9 875.5,743.6 879.5,746.9 883.5,750.6 887.5,754.5 891.5,757.9 895.5,761.0 899.5,764.1 903.5,767.1 907.5,769.9 911.5,772.3 915.5,774.1 919.5,774.8 923.5,774.8 927.5,774.1 931.5,772.9 935.5,771.2 939.5,769.1 943.5,766.4 947.5,763.5 951.5,760.2 955.5,757.1 959.5,754.1 963.5,751.2 967.5,748.3 971.5,745.3 975.5,742.7 979.5,740.2 983.5,738.2 987.5,736.5 991.5,734.9 995.5,733.4 999.5,732.0 1003.5,730.8 1007.5,729.6 1011.5,728.4 1015.5,727.4 1019.5,726.4 1023.5,725.5 1027.5,725.1 1031.5,724.9 1035.5,724.9 1039.5,725.4 1043.5,726.9 1047.5,728.3 1051.5,729.8 1055.5,731.5 1059.5,733.2 1063.5,735.1 1067.5,737.3 1071.5,739.7 1075.5,741.8 1079.5,743.8 1083.5,745.9 1087.5,748.4 1091.5,750.8 1095.5,753.1 1099.5,755.0 1103.5,756.5 1107.5,757.8 1111.5,758.8 1115.5,759.5 1119.5,760.4 1123.5,761.1 1127.5,761.9 1131.5,763.4 1135.5,765.5 1139.5,768.0 1143.5,770.7 1147.5,773.5 1151.5,776.2 1155.5,778.4 1159.5,779.9 1163.5,780.4 1167.5,780.0 1171.5,778.8 1175.5,777.0 1179.5,774.8 1183.5,772.4 1187.5,769.7 1191.5,767.1 1195.5,764.7 1199.5,762.8 1203.5,761.0 1207.5,759.0 1211.5,756.8 1215.5,754.5 1219.5,752.0 1223.5,749.2 1227.5,746.2 1231.5,743.1 1235.5,739.6 1239.5,736.1 1243.5,732.7 1247.5,729.5 1251.5,726.4 1255.5,723.3 1259.5,720.4 1263.5,717.7 1267.5,715.4 1271.5,713.3 1275.5,711.7 1279.5,710.7 1283.5,710.3 1287.5,710.5 1291.5,711.3 1295.5,712.6 1299.5,714.3 1303.5,716.2" fill="none" stroke="#ff0000" stroke-width="1" stroke-dasharray="3,3"/>
</g>
<text transform="translate(6.90 712.70) scale(0.962 1)" font-size="9.8" fill="#000">MACD(12,26,9) 0.002932 0.004326</text>
<text transform="translate(1643.00 711.00) scale(0.955 1)" font-size="9.8" fill="#000">0.006448</text>
<text transform="translate(1643.00 748.00) scale(0.955 1)" font-size="9.8" fill="#000">0.00</text>
<text transform="translate(1643.00 800.00) scale(0.955 1)" font-size="9.8" fill="#000">-0.008982</text>
<rect x="1640" y="702" width="2" height="1" fill="#000"/>
<rect x="3" y="804" width="1" height="3" fill="#000"/>
<text transform="translate(2.00 815.90) scale(0.945 1)" font-size="9.8" fill="#000">5 Feb 2019</text>
<rect x="67" y="804" width="1" height="3" fill="#000"/>
<text transform="translate(66.00 815.90) scale(0.945 1)" font-size="9.8" fill="#000">23 Feb 2019</text>
<rect x="131" y="804" width="1" height="3" fill="#000"/>
<text transform="translate(130.00 815.90) scale(0.945 1)" font-size="9.8" fill="#000">14 Mar 2019</text>
<rect x="195" y="804" width="1" height="3" fill="#000"/>
<text transform="translate(194.00 815.90) scale(0.945 1)" font-size="9.8" fill="#000">2 Apr 2019</text>
<rect x="259" y="804" width="1" height="3" fill="#000"/>
<text transform="translate(258.00 815.90) scale(0.945 1)" font-size="9.8" fill="#000">20 Apr 2019</text>
<rect x="323" y="804" width="1" height="3" fill="#000"/>
<text transform="translate(322.00 815.90) scale(0.945 1)" font-size="9.8" fill="#000">9 May 2019</text>
<rect x="387" y="804" width="1" height="3" fill="#000"/>
<text transform="translate(386.00 815.90) scale(0.945 1)" font-size="9.8" fill="#000">28 May 2019</text>
<rect x="451" y="804" width="1" height="3" fill="#000"/>
<text transform="translate(450.00 815.90) scale(0.945 1)" font-size="9.8" fill="#000">15 Jun 2019</text>
<rect x="515" y="804" width="1" height="3" fill="#000"/>
<text transform="translate(514.00 815.90) scale(0.945 1)" font-size="9.8" fill="#000">4 Jul 2019</text>
<rect x="579" y="804" width="1" height="3" fill="#000"/>
<text transform="translate(578.00 815.90) scale(0.945 1)" font-size="9.8" fill="#000">23 Jul 2019</text>
<rect x="643" y="804" width="1" height="3" fill="#000"/>
<text transform="translate(642.00 815.90) scale(0.945 1)" font-size="9.8" fill="#000">10 Aug 2019</text>
<rect x="707" y="804" width="1" height="3" fill="#000"/>
<text transform="translate(706.00 815.90) scale(0.945 1)" font-size="9.8" fill="#000">29 Aug 2019</text>
<rect x="771" y="804" width="1" height="3" fill="#000"/>
<text transform="translate(770.00 815.90) scale(0.945 1)" font-size="9.8" fill="#000">17 Sep 2019</text>
<rect x="835" y="804" width="1" height="3" fill="#000"/>
<text transform="translate(834.00 815.90) scale(0.945 1)" font-size="9.8" fill="#000">5 Oct 2019</text>
<rect x="899" y="804" width="1" height="3" fill="#000"/>
<text transform="translate(898.00 815.90) scale(0.945 1)" font-size="9.8" fill="#000">24 Oct 2019</text>
<rect x="963" y="804" width="1" height="3" fill="#000"/>
<text transform="translate(962.00 815.90) scale(0.945 1)" font-size="9.8" fill="#000">12 Nov 2019</text>
<rect x="1027" y="804" width="1" height="3" fill="#000"/>
<text transform="translate(1026.00 815.90) scale(0.945 1)" font-size="9.8" fill="#000">30 Nov 2019</text>
<rect x="1091" y="804" width="1" height="3" fill="#000"/>
<text transform="translate(1090.00 815.90) scale(0.945 1)" font-size="9.8" fill="#000">19 Dec 2019</text>
<rect x="1155" y="804" width="1" height="3" fill="#000"/>
<text transform="translate(1154.00 815.90) scale(0.945 1)" font-size="9.8" fill="#000">7 Jan 2020</text>
<rect x="1219" y="804" width="1" height="3" fill="#000"/>
<text transform="translate(1218.00 815.90) scale(0.945 1)" font-size="9.8" fill="#000">25 Jan 2020</text>
<rect x="1283" y="804" width="1" height="3" fill="#000"/>
<text transform="translate(1282.00 815.90) scale(0.945 1)" font-size="9.8" fill="#000">13 Feb 2020</text>
<rect x="0" y="824" width="1684" height="1" fill="#e3e3e3"/>
<rect x="0" y="826" width="1684" height="1" fill="#000"/>
<rect x="0" y="827" width="1684" height="1" fill="#fcfcfc"/>
<rect x="0" y="828" width="1684" height="18" fill="#f0f0f0"/>
<rect x="312" y="826" width="104" height="19" fill="#fff"/>
<path d="M312.5 826 L312.5 844.5 L415.5 844.5 L415.5 826" fill="none" stroke="#000" stroke-width="1"/>
<text x="15.8" y="840.5" font-size="11.95" fill="#6d6d6d" textLength="80.9" lengthAdjust="spacingAndGlyphs">EURUSD,Daily</text>
<rect x="108" y="829" width="1" height="14" fill="#6d6d6d"/>
<text x="117.3" y="840.5" font-size="11.95" fill="#6d6d6d" textLength="80.1" lengthAdjust="spacingAndGlyphs">USDCHF,Daily</text>
<rect x="209" y="829" width="1" height="14" fill="#6d6d6d"/>
<text x="218.2" y="840.5" font-size="11.95" fill="#6d6d6d" textLength="77.7" lengthAdjust="spacingAndGlyphs">AUDUSD,Daily</text>
<text x="322.9" y="840.5" font-size="11.95" fill="#000" textLength="81.6" lengthAdjust="spacingAndGlyphs">USDCAD,Daily</text>
<text x="425.4" y="840.5" font-size="11.95" fill="#6d6d6d" textLength="84.2" lengthAdjust="spacingAndGlyphs">USDCNH,Daily</text>
<rect x="520" y="829" width="1" height="14" fill="#6d6d6d"/>
<text x="531.7" y="840.5" font-size="11.95" fill="#6d6d6d" textLength="80.6" lengthAdjust="spacingAndGlyphs">EURUSD,Daily</text>
<rect x="624" y="829" width="1" height="14" fill="#6d6d6d"/>
<text x="635.2" y="840.5" font-size="11.95" fill="#6d6d6d" textLength="69.1" lengthAdjust="spacingAndGlyphs">GBPUSD,H4</text>
<rect x="716" y="829" width="1" height="14" fill="#6d6d6d"/>
<path d="M1658.2 831.8 L1658.2 838.2 L1654.8 835 Z M1673.8 831.8 L1673.8 838.2 L1677.2 835 Z" fill="#8a8a8a" shape-rendering="auto"/>
</svg></body></html>
